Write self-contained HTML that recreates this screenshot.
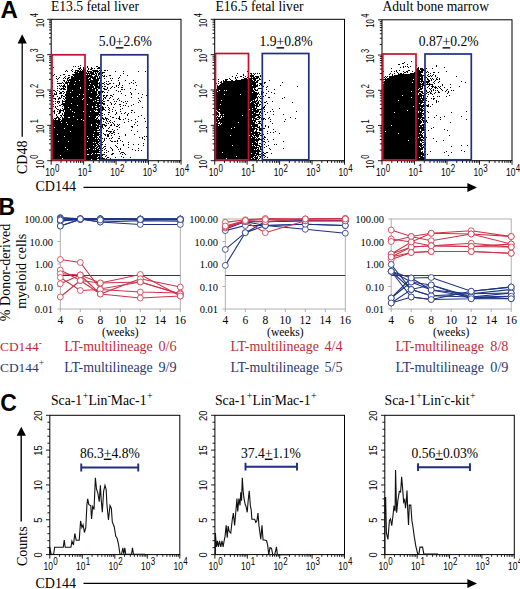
<!DOCTYPE html>
<html><head><meta charset="utf-8"><style>
html,body{margin:0;padding:0;background:#fff;}
svg{display:block;}
</style></head><body>
<svg width="520" height="589" viewBox="0 0 520 589">
<rect width="520" height="589" fill="#fff"/>
<path d="M80 65h1v1h-1zM73 66h1v1h-1zM75 66h1v1h-1zM78 66h1v1h-1zM87 66h1v1h-1zM96 66h2v1h-2zM53 67h1v1h-1zM80 67h1v1h-1zM83 67h1v1h-1zM87 67h1v1h-1zM91 67h1v1h-1zM98 67h2v1h-2zM78 68h3v1h-3zM83 68h1v1h-1zM85 68h1v1h-1zM88 68h1v1h-1zM91 68h2v1h-2zM94 68h1v1h-1zM97 68h3v1h-3zM72 69h1v1h-1zM79 69h1v1h-1zM81 69h1v1h-1zM83 69h3v1h-3zM88 69h1v1h-1zM90 69h2v1h-2zM66 70h1v1h-1zM71 70h1v1h-1zM75 70h4v1h-4zM80 70h1v1h-1zM82 70h4v1h-4zM87 70h1v1h-1zM92 70h6v1h-6zM99 70h1v1h-1zM101 70h1v1h-1zM104 70h2v1h-2zM107 70h1v1h-1zM65 71h1v1h-1zM67 71h1v1h-1zM72 71h1v1h-1zM75 71h1v1h-1zM77 71h9v1h-9zM87 71h5v1h-5zM93 71h6v1h-6zM100 71h1v1h-1zM115 71h1v1h-1zM123 71h1v1h-1zM138 71h1v1h-1zM145 71h1v1h-1zM74 72h4v1h-4zM79 72h8v1h-8zM88 72h1v1h-1zM90 72h4v1h-4zM95 72h1v1h-1zM97 72h1v1h-1zM99 72h2v1h-2zM102 72h3v1h-3zM75 73h19v1h-19zM95 73h2v1h-2zM98 73h3v1h-3zM102 73h1v1h-1zM123 73h1v1h-1zM54 74h1v1h-1zM63 74h2v1h-2zM72 74h14v1h-14zM87 74h1v1h-1zM89 74h1v1h-1zM91 74h4v1h-4zM96 74h1v1h-1zM98 74h2v1h-2zM101 74h1v1h-1zM52 75h2v1h-2zM60 75h1v1h-1zM68 75h2v1h-2zM73 75h19v1h-19zM95 75h2v1h-2zM98 75h1v1h-1zM102 75h1v1h-1zM104 75h1v1h-1zM109 75h2v1h-2zM120 75h1v1h-1zM127 75h1v1h-1zM56 76h1v1h-1zM65 76h1v1h-1zM71 76h2v1h-2zM74 76h19v1h-19zM94 76h4v1h-4zM99 76h1v1h-1zM103 76h2v1h-2zM106 76h1v1h-1zM59 77h1v1h-1zM64 77h1v1h-1zM68 77h2v1h-2zM71 77h18v1h-18zM90 77h6v1h-6zM97 77h1v1h-1zM99 77h1v1h-1zM101 77h1v1h-1zM119 77h1v1h-1zM56 78h1v1h-1zM58 78h1v1h-1zM63 78h1v1h-1zM65 78h1v1h-1zM67 78h2v1h-2zM71 78h17v1h-17zM89 78h2v1h-2zM92 78h4v1h-4zM97 78h4v1h-4zM104 78h1v1h-1zM110 78h1v1h-1zM112 78h1v1h-1zM118 78h1v1h-1zM57 79h1v1h-1zM67 79h1v1h-1zM69 79h22v1h-22zM93 79h6v1h-6zM52 80h1v1h-1zM63 80h2v1h-2zM67 80h12v1h-12zM80 80h9v1h-9zM90 80h9v1h-9zM100 80h1v1h-1zM111 80h1v1h-1zM118 80h1v1h-1zM125 80h1v1h-1zM133 80h1v1h-1zM57 81h1v1h-1zM64 81h1v1h-1zM66 81h1v1h-1zM68 81h1v1h-1zM70 81h5v1h-5zM76 81h22v1h-22zM100 81h1v1h-1zM106 81h1v1h-1zM108 81h1v1h-1zM52 82h1v1h-1zM62 82h1v1h-1zM65 82h33v1h-33zM99 82h1v1h-1zM104 82h1v1h-1zM119 82h1v1h-1zM131 82h1v1h-1zM135 82h1v1h-1zM52 83h1v1h-1zM57 83h5v1h-5zM63 83h1v1h-1zM65 83h3v1h-3zM69 83h21v1h-21zM91 83h9v1h-9zM102 83h2v1h-2zM106 83h1v1h-1zM109 83h2v1h-2zM113 83h1v1h-1zM119 83h1v1h-1zM129 83h1v1h-1zM133 83h1v1h-1zM64 84h1v1h-1zM67 84h1v1h-1zM69 84h5v1h-5zM75 84h23v1h-23zM99 84h2v1h-2zM104 84h1v1h-1zM107 84h2v1h-2zM119 84h1v1h-1zM59 85h1v1h-1zM61 85h1v1h-1zM63 85h2v1h-2zM67 85h22v1h-22zM90 85h3v1h-3zM94 85h4v1h-4zM99 85h2v1h-2zM116 85h1v1h-1zM118 85h1v1h-1zM122 85h1v1h-1zM136 85h1v1h-1zM52 86h1v1h-1zM57 86h1v1h-1zM60 86h1v1h-1zM62 86h4v1h-4zM67 86h27v1h-27zM95 86h5v1h-5zM102 86h1v1h-1zM104 86h2v1h-2zM112 86h1v1h-1zM116 86h1v1h-1zM63 87h1v1h-1zM65 87h1v1h-1zM67 87h13v1h-13zM81 87h13v1h-13zM95 87h5v1h-5zM101 87h1v1h-1zM107 87h1v1h-1zM111 87h1v1h-1zM114 87h1v1h-1zM118 87h1v1h-1zM121 87h2v1h-2zM57 88h1v1h-1zM59 88h1v1h-1zM61 88h4v1h-4zM67 88h13v1h-13zM81 88h11v1h-11zM93 88h4v1h-4zM98 88h2v1h-2zM103 88h2v1h-2zM107 88h1v1h-1zM110 88h1v1h-1zM130 88h1v1h-1zM60 89h2v1h-2zM63 89h3v1h-3zM67 89h21v1h-21zM89 89h6v1h-6zM96 89h2v1h-2zM104 89h3v1h-3zM121 89h2v1h-2zM124 89h1v1h-1zM135 89h1v1h-1zM53 90h2v1h-2zM57 90h1v1h-1zM67 90h5v1h-5zM73 90h22v1h-22zM96 90h2v1h-2zM101 90h1v1h-1zM108 90h1v1h-1zM116 90h1v1h-1zM55 91h1v1h-1zM59 91h1v1h-1zM62 91h2v1h-2zM66 91h31v1h-31zM98 91h6v1h-6zM118 91h1v1h-1zM120 91h1v1h-1zM56 92h1v1h-1zM60 92h2v1h-2zM64 92h1v1h-1zM66 92h4v1h-4zM71 92h20v1h-20zM92 92h5v1h-5zM98 92h3v1h-3zM102 92h1v1h-1zM104 92h1v1h-1zM107 92h1v1h-1zM130 92h1v1h-1zM52 93h1v1h-1zM54 93h1v1h-1zM56 93h1v1h-1zM59 93h3v1h-3zM63 93h1v1h-1zM66 93h31v1h-31zM98 93h3v1h-3zM121 93h1v1h-1zM131 93h1v1h-1zM138 93h1v1h-1zM54 94h3v1h-3zM65 94h14v1h-14zM80 94h3v1h-3zM84 94h14v1h-14zM99 94h2v1h-2zM113 94h1v1h-1zM131 94h1v1h-1zM142 94h1v1h-1zM52 95h2v1h-2zM61 95h2v1h-2zM65 95h32v1h-32zM98 95h2v1h-2zM103 95h2v1h-2zM106 95h2v1h-2zM110 95h2v1h-2zM125 95h1v1h-1zM146 95h1v1h-1zM52 96h2v1h-2zM57 96h1v1h-1zM61 96h1v1h-1zM63 96h2v1h-2zM66 96h11v1h-11zM78 96h18v1h-18zM97 96h2v1h-2zM103 96h1v1h-1zM106 96h1v1h-1zM112 96h1v1h-1zM52 97h1v1h-1zM59 97h1v1h-1zM61 97h1v1h-1zM65 97h7v1h-7zM73 97h16v1h-16zM90 97h11v1h-11zM104 97h2v1h-2zM110 97h1v1h-1zM131 97h1v1h-1zM141 97h1v1h-1zM53 98h3v1h-3zM58 98h3v1h-3zM63 98h1v1h-1zM65 98h18v1h-18zM84 98h6v1h-6zM92 98h8v1h-8zM103 98h1v1h-1zM105 98h1v1h-1zM109 98h1v1h-1zM118 98h1v1h-1zM138 98h1v1h-1zM55 99h1v1h-1zM58 99h1v1h-1zM64 99h1v1h-1zM66 99h16v1h-16zM83 99h14v1h-14zM99 99h1v1h-1zM103 99h1v1h-1zM113 99h1v1h-1zM117 99h1v1h-1zM62 100h1v1h-1zM65 100h30v1h-30zM96 100h5v1h-5zM102 100h1v1h-1zM107 100h2v1h-2zM119 100h1v1h-1zM139 100h1v1h-1zM53 101h1v1h-1zM55 101h1v1h-1zM57 101h3v1h-3zM62 101h31v1h-31zM94 101h3v1h-3zM99 101h1v1h-1zM101 101h1v1h-1zM103 101h2v1h-2zM114 101h1v1h-1zM116 101h1v1h-1zM121 101h1v1h-1zM125 101h1v1h-1zM127 101h1v1h-1zM140 101h1v1h-1zM57 102h1v1h-1zM59 102h1v1h-1zM62 102h1v1h-1zM65 102h38v1h-38zM110 102h1v1h-1zM123 102h1v1h-1zM138 102h1v1h-1zM55 103h1v1h-1zM58 103h1v1h-1zM62 103h9v1h-9zM72 103h33v1h-33zM111 103h1v1h-1zM115 103h1v1h-1zM126 103h1v1h-1zM53 104h1v1h-1zM61 104h26v1h-26zM88 104h8v1h-8zM97 104h2v1h-2zM103 104h2v1h-2zM111 104h1v1h-1zM114 104h1v1h-1zM119 104h2v1h-2zM133 104h1v1h-1zM59 105h2v1h-2zM63 105h14v1h-14zM78 105h23v1h-23zM107 105h1v1h-1zM123 105h1v1h-1zM125 105h1v1h-1zM131 105h1v1h-1zM53 106h1v1h-1zM55 106h1v1h-1zM57 106h1v1h-1zM62 106h1v1h-1zM64 106h28v1h-28zM93 106h2v1h-2zM97 106h3v1h-3zM102 106h1v1h-1zM120 106h1v1h-1zM128 106h1v1h-1zM55 107h1v1h-1zM64 107h4v1h-4zM69 107h23v1h-23zM93 107h6v1h-6zM100 107h4v1h-4zM105 107h1v1h-1zM108 107h1v1h-1zM113 107h1v1h-1zM142 107h1v1h-1zM52 108h1v1h-1zM56 108h1v1h-1zM62 108h1v1h-1zM64 108h32v1h-32zM98 108h3v1h-3zM102 108h2v1h-2zM109 108h1v1h-1zM122 108h1v1h-1zM57 109h2v1h-2zM60 109h1v1h-1zM63 109h7v1h-7zM71 109h30v1h-30zM102 109h3v1h-3zM108 109h1v1h-1zM112 109h1v1h-1zM120 109h1v1h-1zM54 110h1v1h-1zM59 110h5v1h-5zM65 110h29v1h-29zM95 110h1v1h-1zM97 110h3v1h-3zM101 110h2v1h-2zM105 110h1v1h-1zM109 110h1v1h-1zM115 110h1v1h-1zM131 110h2v1h-2zM53 111h2v1h-2zM57 111h1v1h-1zM59 111h2v1h-2zM63 111h1v1h-1zM65 111h7v1h-7zM73 111h10v1h-10zM84 111h6v1h-6zM91 111h4v1h-4zM98 111h2v1h-2zM112 111h1v1h-1zM120 111h1v1h-1zM54 112h1v1h-1zM59 112h2v1h-2zM64 112h10v1h-10zM75 112h26v1h-26zM108 112h2v1h-2zM116 112h1v1h-1zM125 112h1v1h-1zM131 112h1v1h-1zM134 112h1v1h-1zM54 113h1v1h-1zM58 113h2v1h-2zM62 113h1v1h-1zM64 113h35v1h-35zM100 113h3v1h-3zM116 113h1v1h-1zM121 113h1v1h-1zM124 113h1v1h-1zM128 113h1v1h-1zM56 114h1v1h-1zM62 114h1v1h-1zM64 114h36v1h-36zM104 114h1v1h-1zM108 114h1v1h-1zM115 114h1v1h-1zM127 114h1v1h-1zM56 115h1v1h-1zM60 115h2v1h-2zM63 115h35v1h-35zM99 115h2v1h-2zM102 115h1v1h-1zM127 115h1v1h-1zM141 115h1v1h-1zM52 116h1v1h-1zM57 116h1v1h-1zM61 116h1v1h-1zM64 116h9v1h-9zM74 116h15v1h-15zM90 116h6v1h-6zM98 116h1v1h-1zM110 116h1v1h-1zM119 116h1v1h-1zM138 116h1v1h-1zM56 117h3v1h-3zM60 117h1v1h-1zM62 117h1v1h-1zM64 117h4v1h-4zM70 117h26v1h-26zM97 117h1v1h-1zM102 117h1v1h-1zM105 117h1v1h-1zM112 117h2v1h-2zM119 117h1v1h-1zM52 118h1v1h-1zM54 118h3v1h-3zM58 118h2v1h-2zM62 118h33v1h-33zM96 118h2v1h-2zM102 118h2v1h-2zM105 118h3v1h-3zM116 118h1v1h-1zM118 118h2v1h-2zM125 118h1v1h-1zM144 118h1v1h-1zM53 119h1v1h-1zM55 119h1v1h-1zM58 119h3v1h-3zM62 119h15v1h-15zM78 119h3v1h-3zM82 119h15v1h-15zM98 119h1v1h-1zM100 119h2v1h-2zM103 119h2v1h-2zM106 119h1v1h-1zM108 119h1v1h-1zM119 119h2v1h-2zM123 119h1v1h-1zM128 119h1v1h-1zM135 119h1v1h-1zM52 120h8v1h-8zM61 120h22v1h-22zM84 120h18v1h-18zM106 120h1v1h-1zM110 120h1v1h-1zM131 120h1v1h-1zM52 121h48v1h-48zM103 121h1v1h-1zM107 121h1v1h-1zM109 121h1v1h-1zM114 121h1v1h-1zM128 121h1v1h-1zM137 121h1v1h-1zM145 121h1v1h-1zM52 122h9v1h-9zM62 122h4v1h-4zM67 122h35v1h-35zM105 122h1v1h-1zM110 122h1v1h-1zM112 122h1v1h-1zM124 122h1v1h-1zM135 122h1v1h-1zM52 123h44v1h-44zM97 123h3v1h-3zM106 123h1v1h-1zM108 123h1v1h-1zM113 123h1v1h-1zM52 124h15v1h-15zM68 124h23v1h-23zM92 124h5v1h-5zM98 124h3v1h-3zM102 124h3v1h-3zM111 124h1v1h-1zM114 124h1v1h-1zM117 124h1v1h-1zM119 124h1v1h-1zM134 124h1v1h-1zM52 125h20v1h-20zM73 125h18v1h-18zM92 125h7v1h-7zM101 125h2v1h-2zM104 125h3v1h-3zM110 125h2v1h-2zM114 125h1v1h-1zM118 125h1v1h-1zM137 125h1v1h-1zM52 126h44v1h-44zM97 126h6v1h-6zM105 126h1v1h-1zM116 126h2v1h-2zM131 126h2v1h-2zM52 127h2v1h-2zM55 127h44v1h-44zM100 127h3v1h-3zM109 127h1v1h-1zM119 127h1v1h-1zM132 127h1v1h-1zM146 127h1v1h-1zM52 128h12v1h-12zM65 128h34v1h-34zM100 128h1v1h-1zM103 128h1v1h-1zM108 128h1v1h-1zM52 129h45v1h-45zM99 129h1v1h-1zM101 129h1v1h-1zM112 129h1v1h-1zM117 129h1v1h-1zM52 130h48v1h-48zM101 130h1v1h-1zM106 130h2v1h-2zM114 130h1v1h-1zM131 130h1v1h-1zM52 131h18v1h-18zM71 131h23v1h-23zM95 131h2v1h-2zM100 131h1v1h-1zM106 131h1v1h-1zM108 131h4v1h-4zM113 131h1v1h-1zM137 131h1v1h-1zM52 132h48v1h-48zM101 132h1v1h-1zM110 132h1v1h-1zM113 132h2v1h-2zM52 133h47v1h-47zM101 133h1v1h-1zM103 133h1v1h-1zM109 133h1v1h-1zM111 133h2v1h-2zM118 133h1v1h-1zM52 134h5v1h-5zM58 134h35v1h-35zM94 134h6v1h-6zM104 134h2v1h-2zM107 134h2v1h-2zM114 134h1v1h-1zM125 134h1v1h-1zM134 134h1v1h-1zM52 135h47v1h-47zM100 135h2v1h-2zM105 135h1v1h-1zM107 135h2v1h-2zM111 135h1v1h-1zM125 135h1v1h-1zM52 136h12v1h-12zM65 136h22v1h-22zM88 136h5v1h-5zM94 136h3v1h-3zM99 136h2v1h-2zM107 136h2v1h-2zM119 136h1v1h-1zM144 136h1v1h-1zM146 136h1v1h-1zM52 137h46v1h-46zM99 137h2v1h-2zM112 137h1v1h-1zM139 137h1v1h-1zM142 137h1v1h-1zM52 138h36v1h-36zM89 138h6v1h-6zM96 138h1v1h-1zM98 138h1v1h-1zM102 138h1v1h-1zM104 138h1v1h-1zM106 138h1v1h-1zM109 138h1v1h-1zM111 138h1v1h-1zM118 138h2v1h-2zM142 138h1v1h-1zM52 139h48v1h-48zM104 139h1v1h-1zM144 139h1v1h-1zM52 140h46v1h-46zM99 140h2v1h-2zM104 140h1v1h-1zM110 140h1v1h-1zM117 140h1v1h-1zM120 140h1v1h-1zM52 141h6v1h-6zM59 141h9v1h-9zM69 141h18v1h-18zM88 141h12v1h-12zM101 141h1v1h-1zM103 141h1v1h-1zM111 141h2v1h-2zM114 141h2v1h-2zM117 141h1v1h-1zM122 141h1v1h-1zM52 142h41v1h-41zM94 142h1v1h-1zM96 142h3v1h-3zM101 142h2v1h-2zM128 142h1v1h-1zM52 143h46v1h-46zM99 143h1v1h-1zM117 143h1v1h-1zM143 143h1v1h-1zM52 144h44v1h-44zM97 144h2v1h-2zM100 144h3v1h-3zM105 144h1v1h-1zM123 144h1v1h-1zM128 144h1v1h-1zM133 144h1v1h-1zM138 144h1v1h-1zM52 145h41v1h-41zM94 145h3v1h-3zM98 145h2v1h-2zM101 145h1v1h-1zM115 145h1v1h-1zM123 145h1v1h-1zM143 145h1v1h-1zM52 146h44v1h-44zM97 146h3v1h-3zM104 146h2v1h-2zM116 146h1v1h-1zM52 147h13v1h-13zM66 147h29v1h-29zM96 147h2v1h-2zM99 147h2v1h-2zM103 147h1v1h-1zM110 147h1v1h-1zM117 147h1v1h-1zM128 147h1v1h-1zM52 148h37v1h-37zM90 148h7v1h-7zM98 148h3v1h-3zM102 148h1v1h-1zM105 148h1v1h-1zM111 148h1v1h-1zM120 148h1v1h-1zM138 148h1v1h-1zM52 149h15v1h-15zM68 149h19v1h-19zM88 149h5v1h-5zM94 149h1v1h-1zM96 149h3v1h-3zM100 149h1v1h-1zM104 149h1v1h-1zM112 149h1v1h-1zM118 149h1v1h-1zM120 149h1v1h-1zM132 149h1v1h-1zM52 150h48v1h-48zM102 150h1v1h-1zM106 150h1v1h-1zM112 150h1v1h-1zM135 150h1v1h-1zM138 150h1v1h-1zM141 150h1v1h-1zM52 151h47v1h-47zM108 151h1v1h-1zM119 151h1v1h-1zM52 152h49v1h-49zM104 152h1v1h-1zM106 152h1v1h-1zM121 152h3v1h-3zM52 153h40v1h-40zM93 153h2v1h-2zM96 153h1v1h-1zM112 153h2v1h-2zM120 153h1v1h-1zM124 153h1v1h-1zM52 154h35v1h-35zM89 154h2v1h-2zM92 154h8v1h-8zM102 154h3v1h-3zM111 154h2v1h-2zM122 154h1v1h-1zM125 154h1v1h-1zM52 155h8v1h-8zM61 155h39v1h-39zM101 155h2v1h-2zM106 155h1v1h-1zM52 156h46v1h-46zM99 156h1v1h-1zM101 156h1v1h-1zM105 156h1v1h-1zM121 156h1v1h-1zM52 157h45v1h-45zM98 157h3v1h-3zM102 157h1v1h-1zM107 157h2v1h-2zM115 157h1v1h-1zM123 157h1v1h-1zM130 157h1v1h-1zM52 158h10v1h-10zM63 158h42v1h-42zM106 158h1v1h-1zM110 158h1v1h-1zM52 159h39v1h-39zM92 159h5v1h-5zM99 159h1v1h-1zM103 159h1v1h-1zM119 159h1v1h-1zM145 159h1v1h-1z" fill="#000"/><rect x="51.2" y="19.3" width="129.80" height="141.40" fill="none" stroke="#000" stroke-width="1"/><path d="M47.20 160.70H51.20M49.00 150.06H51.20M49.00 143.83H51.20M49.00 139.42H51.20M49.00 135.99H51.20M49.00 133.19H51.20M49.00 130.83H51.20M49.00 128.78H51.20M49.00 126.97H51.20M47.20 125.35H51.20M49.00 114.71H51.20M49.00 108.48H51.20M49.00 104.07H51.20M49.00 100.64H51.20M49.00 97.84H51.20M49.00 95.48H51.20M49.00 93.43H51.20M49.00 91.62H51.20M47.20 90.00H51.20M49.00 79.36H51.20M49.00 73.13H51.20M49.00 68.72H51.20M49.00 65.29H51.20M49.00 62.49H51.20M49.00 60.13H51.20M49.00 58.08H51.20M49.00 56.27H51.20M47.20 54.65H51.20M49.00 44.01H51.20M49.00 37.78H51.20M49.00 33.37H51.20M49.00 29.94H51.20M49.00 27.14H51.20M49.00 24.78H51.20M49.00 22.73H51.20M49.00 20.92H51.20M47.20 19.30H51.20M51.20 160.70V164.70M60.97 160.70V162.90M66.68 160.70V162.90M70.74 160.70V162.90M73.88 160.70V162.90M76.45 160.70V162.90M78.62 160.70V162.90M80.51 160.70V162.90M82.17 160.70V162.90M83.65 160.70V164.70M93.42 160.70V162.90M99.13 160.70V162.90M103.19 160.70V162.90M106.33 160.70V162.90M108.90 160.70V162.90M111.07 160.70V162.90M112.96 160.70V162.90M114.62 160.70V162.90M116.10 160.70V164.70M125.87 160.70V162.90M131.58 160.70V162.90M135.64 160.70V162.90M138.78 160.70V162.90M141.35 160.70V162.90M143.52 160.70V162.90M145.41 160.70V162.90M147.07 160.70V162.90M148.55 160.70V164.70M158.32 160.70V162.90M164.03 160.70V162.90M168.09 160.70V162.90M171.23 160.70V162.90M173.80 160.70V162.90M175.97 160.70V162.90M177.86 160.70V162.90M179.52 160.70V162.90M181.00 160.70V164.70" stroke="#000" stroke-width="0.9" fill="none"/><rect x="52" y="54.8" width="33.00" height="105.00" fill="none" stroke="#c8102e" stroke-width="1.7"/><rect x="101" y="54.8" width="46.80" height="105.00" fill="none" stroke="#1f2f80" stroke-width="1.7"/><text x="51" y="10.7" font-family='"Liberation Serif", serif' font-size="13.6">E13.5 fetal liver</text><text x="98.75" y="46.2" font-family='"Liberation Serif", serif' font-size="13.6">5.0<tspan text-decoration="underline">+</tspan>2.6%</text><text transform="translate(52.40,176.3) scale(0.8,1)" font-family='"Liberation Sans", sans-serif' font-size="10.6" text-anchor="middle">10<tspan dx="0.4" dy="-4.8" font-size="10">0</tspan></text><text transform="translate(84.85,176.3) scale(0.8,1)" font-family='"Liberation Sans", sans-serif' font-size="10.6" text-anchor="middle">10<tspan dx="0.4" dy="-4.8" font-size="10">1</tspan></text><text transform="translate(117.30,176.3) scale(0.8,1)" font-family='"Liberation Sans", sans-serif' font-size="10.6" text-anchor="middle">10<tspan dx="0.4" dy="-4.8" font-size="10">2</tspan></text><text transform="translate(149.75,176.3) scale(0.8,1)" font-family='"Liberation Sans", sans-serif' font-size="10.6" text-anchor="middle">10<tspan dx="0.4" dy="-4.8" font-size="10">3</tspan></text><text transform="translate(182.20,176.3) scale(0.8,1)" font-family='"Liberation Sans", sans-serif' font-size="10.6" text-anchor="middle">10<tspan dx="0.4" dy="-4.8" font-size="10">4</tspan></text><text transform="translate(43.6,161.60) rotate(-90) scale(0.74,1)" font-family='"Liberation Sans", sans-serif' font-size="10.6" text-anchor="middle">10<tspan dx="1.8" dy="-5.6" font-size="10">0</tspan></text><text transform="translate(43.6,126.25) rotate(-90) scale(0.74,1)" font-family='"Liberation Sans", sans-serif' font-size="10.6" text-anchor="middle">10<tspan dx="1.8" dy="-5.6" font-size="10">1</tspan></text><text transform="translate(43.6,90.90) rotate(-90) scale(0.74,1)" font-family='"Liberation Sans", sans-serif' font-size="10.6" text-anchor="middle">10<tspan dx="1.8" dy="-5.6" font-size="10">2</tspan></text><text transform="translate(43.6,55.55) rotate(-90) scale(0.74,1)" font-family='"Liberation Sans", sans-serif' font-size="10.6" text-anchor="middle">10<tspan dx="1.8" dy="-5.6" font-size="10">3</tspan></text><text transform="translate(43.6,20.20) rotate(-90) scale(0.74,1)" font-family='"Liberation Sans", sans-serif' font-size="10.6" text-anchor="middle">10<tspan dx="1.8" dy="-5.6" font-size="10">4</tspan></text><path d="M247 71h1v1h-1zM237 73h1v1h-1zM248 73h1v1h-1zM250 73h2v1h-2zM253 73h1v1h-1zM255 73h1v1h-1zM257 73h1v1h-1zM259 73h1v1h-1zM243 74h1v1h-1zM251 74h1v1h-1zM254 74h1v1h-1zM236 75h1v1h-1zM243 75h1v1h-1zM250 75h4v1h-4zM260 75h1v1h-1zM232 76h1v1h-1zM240 76h2v1h-2zM245 76h1v1h-1zM250 76h4v1h-4zM255 76h4v1h-4zM260 76h1v1h-1zM235 77h1v1h-1zM237 77h1v1h-1zM243 77h1v1h-1zM247 77h1v1h-1zM251 77h1v1h-1zM253 77h2v1h-2zM256 77h3v1h-3zM229 78h1v1h-1zM235 78h1v1h-1zM244 78h3v1h-3zM249 78h9v1h-9zM259 78h1v1h-1zM262 78h1v1h-1zM218 79h1v1h-1zM225 79h3v1h-3zM230 79h1v1h-1zM236 79h1v1h-1zM241 79h11v1h-11zM253 79h3v1h-3zM259 79h2v1h-2zM262 79h1v1h-1zM223 80h1v1h-1zM225 80h2v1h-2zM231 80h2v1h-2zM235 80h18v1h-18zM254 80h2v1h-2zM257 80h2v1h-2zM269 80h1v1h-1zM218 81h1v1h-1zM221 81h1v1h-1zM223 81h32v1h-32zM256 81h2v1h-2zM262 81h1v1h-1zM220 82h2v1h-2zM223 82h35v1h-35zM264 82h2v1h-2zM282 82h1v1h-1zM216 83h1v1h-1zM218 83h1v1h-1zM221 83h27v1h-27zM249 83h7v1h-7zM259 83h3v1h-3zM264 83h1v1h-1zM220 84h36v1h-36zM257 84h1v1h-1zM260 84h2v1h-2zM217 85h1v1h-1zM219 85h33v1h-33zM253 85h5v1h-5zM259 85h1v1h-1zM261 85h1v1h-1zM280 85h1v1h-1zM217 86h41v1h-41zM262 86h2v1h-2zM267 86h1v1h-1zM297 86h1v1h-1zM217 87h39v1h-39zM262 87h1v1h-1zM266 87h1v1h-1zM217 88h36v1h-36zM254 88h1v1h-1zM258 88h4v1h-4zM216 89h37v1h-37zM254 89h2v1h-2zM257 89h1v1h-1zM262 89h1v1h-1zM266 89h1v1h-1zM274 89h1v1h-1zM216 90h3v1h-3zM220 90h4v1h-4zM225 90h1v1h-1zM227 90h27v1h-27zM255 90h3v1h-3zM262 90h1v1h-1zM216 91h1v1h-1zM218 91h37v1h-37zM261 91h2v1h-2zM268 91h1v1h-1zM215 92h37v1h-37zM253 92h4v1h-4zM258 92h1v1h-1zM261 92h3v1h-3zM271 92h1v1h-1zM215 93h44v1h-44zM261 93h2v1h-2zM266 93h1v1h-1zM274 93h1v1h-1zM215 94h9v1h-9zM225 94h15v1h-15zM241 94h17v1h-17zM259 94h1v1h-1zM261 94h2v1h-2zM215 95h42v1h-42zM265 95h1v1h-1zM215 96h42v1h-42zM258 96h1v1h-1zM260 96h1v1h-1zM263 96h1v1h-1zM215 97h43v1h-43zM259 97h1v1h-1zM268 97h2v1h-2zM284 97h1v1h-1zM215 98h41v1h-41zM257 98h1v1h-1zM260 98h2v1h-2zM282 98h1v1h-1zM215 99h40v1h-40zM257 99h1v1h-1zM215 100h6v1h-6zM222 100h31v1h-31zM254 100h1v1h-1zM256 100h2v1h-2zM259 100h1v1h-1zM215 101h36v1h-36zM252 101h5v1h-5zM258 101h1v1h-1zM260 101h1v1h-1zM266 101h1v1h-1zM272 101h1v1h-1zM215 102h35v1h-35zM251 102h5v1h-5zM257 102h2v1h-2zM261 102h1v1h-1zM264 102h2v1h-2zM292 102h1v1h-1zM215 103h39v1h-39zM255 103h4v1h-4zM267 103h1v1h-1zM215 104h5v1h-5zM221 104h34v1h-34zM256 104h2v1h-2zM259 104h2v1h-2zM262 104h1v1h-1zM216 105h42v1h-42zM259 105h1v1h-1zM265 105h1v1h-1zM215 106h40v1h-40zM256 106h3v1h-3zM264 106h1v1h-1zM215 107h40v1h-40zM256 107h1v1h-1zM262 107h3v1h-3zM215 108h37v1h-37zM253 108h4v1h-4zM261 108h1v1h-1zM263 108h1v1h-1zM279 108h1v1h-1zM215 109h4v1h-4zM220 109h29v1h-29zM250 109h6v1h-6zM257 109h6v1h-6zM264 109h1v1h-1zM272 109h1v1h-1zM215 110h1v1h-1zM217 110h35v1h-35zM253 110h6v1h-6zM215 111h2v1h-2zM218 111h41v1h-41zM260 111h1v1h-1zM264 111h1v1h-1zM270 111h1v1h-1zM273 111h1v1h-1zM296 111h1v1h-1zM215 112h3v1h-3zM220 112h34v1h-34zM255 112h3v1h-3zM259 112h2v1h-2zM267 112h1v1h-1zM215 113h4v1h-4zM220 113h36v1h-36zM259 113h1v1h-1zM261 113h1v1h-1zM215 114h4v1h-4zM221 114h2v1h-2zM224 114h28v1h-28zM253 114h7v1h-7zM265 114h1v1h-1zM273 114h1v1h-1zM283 114h1v1h-1zM215 115h2v1h-2zM218 115h1v1h-1zM220 115h22v1h-22zM243 115h16v1h-16zM260 115h1v1h-1zM262 115h1v1h-1zM215 116h1v1h-1zM217 116h1v1h-1zM220 116h1v1h-1zM222 116h1v1h-1zM224 116h32v1h-32zM258 116h2v1h-2zM215 117h6v1h-6zM222 117h33v1h-33zM257 117h4v1h-4zM269 117h1v1h-1zM290 117h1v1h-1zM215 118h2v1h-2zM218 118h2v1h-2zM221 118h31v1h-31zM253 118h4v1h-4zM259 118h1v1h-1zM261 118h4v1h-4zM268 118h1v1h-1zM295 118h1v1h-1zM216 119h36v1h-36zM253 119h1v1h-1zM255 119h4v1h-4zM261 119h1v1h-1zM263 119h1v1h-1zM265 119h1v1h-1zM270 119h1v1h-1zM285 119h1v1h-1zM215 120h3v1h-3zM219 120h37v1h-37zM262 120h1v1h-1zM215 121h38v1h-38zM254 121h2v1h-2zM258 121h3v1h-3zM270 121h1v1h-1zM284 121h1v1h-1zM215 122h1v1h-1zM217 122h2v1h-2zM220 122h18v1h-18zM239 122h16v1h-16zM256 122h1v1h-1zM259 122h1v1h-1zM215 123h3v1h-3zM220 123h1v1h-1zM222 123h33v1h-33zM258 123h3v1h-3zM262 123h1v1h-1zM272 123h1v1h-1zM215 124h5v1h-5zM221 124h37v1h-37zM261 124h1v1h-1zM215 125h3v1h-3zM219 125h32v1h-32zM252 125h6v1h-6zM261 125h1v1h-1zM265 125h1v1h-1zM215 126h43v1h-43zM259 126h1v1h-1zM265 126h1v1h-1zM268 126h1v1h-1zM215 127h19v1h-19zM235 127h17v1h-17zM253 127h2v1h-2zM257 127h3v1h-3zM268 127h1v1h-1zM215 128h16v1h-16zM232 128h25v1h-25zM259 128h3v1h-3zM263 128h2v1h-2zM215 129h40v1h-40zM256 129h2v1h-2zM259 129h3v1h-3zM273 129h1v1h-1zM215 130h39v1h-39zM256 130h1v1h-1zM259 130h3v1h-3zM215 131h39v1h-39zM255 131h2v1h-2zM267 131h1v1h-1zM275 131h1v1h-1zM215 132h36v1h-36zM252 132h8v1h-8zM270 132h1v1h-1zM273 132h1v1h-1zM215 133h43v1h-43zM259 133h2v1h-2zM267 133h1v1h-1zM279 133h1v1h-1zM215 134h39v1h-39zM255 134h5v1h-5zM262 134h2v1h-2zM215 135h15v1h-15zM231 135h18v1h-18zM250 135h2v1h-2zM253 135h6v1h-6zM260 135h3v1h-3zM215 136h38v1h-38zM254 136h1v1h-1zM256 136h3v1h-3zM262 136h1v1h-1zM264 136h1v1h-1zM215 137h36v1h-36zM252 137h4v1h-4zM257 137h1v1h-1zM264 137h2v1h-2zM215 138h40v1h-40zM256 138h1v1h-1zM258 138h2v1h-2zM262 138h2v1h-2zM215 139h47v1h-47zM264 139h1v1h-1zM267 139h1v1h-1zM273 139h1v1h-1zM215 140h44v1h-44zM261 140h1v1h-1zM215 141h40v1h-40zM256 141h2v1h-2zM263 141h2v1h-2zM268 141h1v1h-1zM283 141h1v1h-1zM215 142h41v1h-41zM257 142h1v1h-1zM265 142h1v1h-1zM215 143h37v1h-37zM253 143h5v1h-5zM259 143h2v1h-2zM215 144h43v1h-43zM261 144h2v1h-2zM264 144h1v1h-1zM274 144h1v1h-1zM276 144h1v1h-1zM215 145h17v1h-17zM233 145h19v1h-19zM253 145h1v1h-1zM255 145h5v1h-5zM268 145h1v1h-1zM215 146h40v1h-40zM256 146h1v1h-1zM259 146h3v1h-3zM266 146h1v1h-1zM215 147h44v1h-44zM260 147h1v1h-1zM262 147h1v1h-1zM264 147h1v1h-1zM215 148h42v1h-42zM258 148h1v1h-1zM260 148h1v1h-1zM262 148h1v1h-1zM269 148h1v1h-1zM283 148h1v1h-1zM215 149h39v1h-39zM255 149h1v1h-1zM257 149h2v1h-2zM260 149h3v1h-3zM270 149h1v1h-1zM215 150h45v1h-45zM262 150h1v1h-1zM215 151h46v1h-46zM215 152h7v1h-7zM223 152h33v1h-33zM257 152h2v1h-2zM263 152h1v1h-1zM266 152h2v1h-2zM215 153h36v1h-36zM252 153h7v1h-7zM261 153h1v1h-1zM264 153h2v1h-2zM271 153h1v1h-1zM215 154h40v1h-40zM256 154h5v1h-5zM263 154h1v1h-1zM215 155h42v1h-42zM258 155h1v1h-1zM261 155h1v1h-1zM263 155h2v1h-2zM215 156h21v1h-21zM237 156h17v1h-17zM255 156h1v1h-1zM257 156h1v1h-1zM259 156h2v1h-2zM265 156h1v1h-1zM215 157h38v1h-38zM254 157h4v1h-4zM260 157h1v1h-1zM262 157h1v1h-1zM264 157h1v1h-1zM267 157h1v1h-1zM215 158h11v1h-11zM227 158h24v1h-24zM252 158h2v1h-2zM255 158h3v1h-3zM259 158h1v1h-1zM215 159h42v1h-42zM258 159h1v1h-1zM262 159h1v1h-1z" fill="#000"/><rect x="214.7" y="19.3" width="129.80" height="141.40" fill="none" stroke="#000" stroke-width="1"/><path d="M210.70 160.70H214.70M212.50 150.06H214.70M212.50 143.83H214.70M212.50 139.42H214.70M212.50 135.99H214.70M212.50 133.19H214.70M212.50 130.83H214.70M212.50 128.78H214.70M212.50 126.97H214.70M210.70 125.35H214.70M212.50 114.71H214.70M212.50 108.48H214.70M212.50 104.07H214.70M212.50 100.64H214.70M212.50 97.84H214.70M212.50 95.48H214.70M212.50 93.43H214.70M212.50 91.62H214.70M210.70 90.00H214.70M212.50 79.36H214.70M212.50 73.13H214.70M212.50 68.72H214.70M212.50 65.29H214.70M212.50 62.49H214.70M212.50 60.13H214.70M212.50 58.08H214.70M212.50 56.27H214.70M210.70 54.65H214.70M212.50 44.01H214.70M212.50 37.78H214.70M212.50 33.37H214.70M212.50 29.94H214.70M212.50 27.14H214.70M212.50 24.78H214.70M212.50 22.73H214.70M212.50 20.92H214.70M210.70 19.30H214.70M214.70 160.70V164.70M224.47 160.70V162.90M230.18 160.70V162.90M234.24 160.70V162.90M237.38 160.70V162.90M239.95 160.70V162.90M242.12 160.70V162.90M244.01 160.70V162.90M245.67 160.70V162.90M247.15 160.70V164.70M256.92 160.70V162.90M262.63 160.70V162.90M266.69 160.70V162.90M269.83 160.70V162.90M272.40 160.70V162.90M274.57 160.70V162.90M276.46 160.70V162.90M278.12 160.70V162.90M279.60 160.70V164.70M289.37 160.70V162.90M295.08 160.70V162.90M299.14 160.70V162.90M302.28 160.70V162.90M304.85 160.70V162.90M307.02 160.70V162.90M308.91 160.70V162.90M310.57 160.70V162.90M312.05 160.70V164.70M321.82 160.70V162.90M327.53 160.70V162.90M331.59 160.70V162.90M334.73 160.70V162.90M337.30 160.70V162.90M339.47 160.70V162.90M341.36 160.70V162.90M343.02 160.70V162.90M344.50 160.70V164.70" stroke="#000" stroke-width="0.9" fill="none"/><rect x="215.5" y="53.5" width="33.00" height="106.30" fill="none" stroke="#c8102e" stroke-width="1.7"/><rect x="262.3" y="53.5" width="46.50" height="106.30" fill="none" stroke="#1f2f80" stroke-width="1.7"/><text x="215.5" y="10.7" font-family='"Liberation Serif", serif' font-size="13.6">E16.5 fetal liver</text><text x="259.5" y="46.2" font-family='"Liberation Serif", serif' font-size="13.6">1.9<tspan text-decoration="underline">+</tspan>0.8%</text><text transform="translate(215.90,176.3) scale(0.8,1)" font-family='"Liberation Sans", sans-serif' font-size="10.6" text-anchor="middle">10<tspan dx="0.4" dy="-4.8" font-size="10">0</tspan></text><text transform="translate(248.35,176.3) scale(0.8,1)" font-family='"Liberation Sans", sans-serif' font-size="10.6" text-anchor="middle">10<tspan dx="0.4" dy="-4.8" font-size="10">1</tspan></text><text transform="translate(280.80,176.3) scale(0.8,1)" font-family='"Liberation Sans", sans-serif' font-size="10.6" text-anchor="middle">10<tspan dx="0.4" dy="-4.8" font-size="10">2</tspan></text><text transform="translate(313.25,176.3) scale(0.8,1)" font-family='"Liberation Sans", sans-serif' font-size="10.6" text-anchor="middle">10<tspan dx="0.4" dy="-4.8" font-size="10">3</tspan></text><text transform="translate(345.70,176.3) scale(0.8,1)" font-family='"Liberation Sans", sans-serif' font-size="10.6" text-anchor="middle">10<tspan dx="0.4" dy="-4.8" font-size="10">4</tspan></text><text transform="translate(207.1,161.60) rotate(-90) scale(0.74,1)" font-family='"Liberation Sans", sans-serif' font-size="10.6" text-anchor="middle">10<tspan dx="1.8" dy="-5.6" font-size="10">0</tspan></text><text transform="translate(207.1,126.25) rotate(-90) scale(0.74,1)" font-family='"Liberation Sans", sans-serif' font-size="10.6" text-anchor="middle">10<tspan dx="1.8" dy="-5.6" font-size="10">1</tspan></text><text transform="translate(207.1,90.90) rotate(-90) scale(0.74,1)" font-family='"Liberation Sans", sans-serif' font-size="10.6" text-anchor="middle">10<tspan dx="1.8" dy="-5.6" font-size="10">2</tspan></text><text transform="translate(207.1,55.55) rotate(-90) scale(0.74,1)" font-family='"Liberation Sans", sans-serif' font-size="10.6" text-anchor="middle">10<tspan dx="1.8" dy="-5.6" font-size="10">3</tspan></text><text transform="translate(207.1,20.20) rotate(-90) scale(0.74,1)" font-family='"Liberation Sans", sans-serif' font-size="10.6" text-anchor="middle">10<tspan dx="1.8" dy="-5.6" font-size="10">4</tspan></text><path d="M411 61h1v1h-1zM404 62h1v1h-1zM402 63h2v1h-2zM398 64h2v1h-2zM407 64h1v1h-1zM416 65h1v1h-1zM436 65h1v1h-1zM403 66h1v1h-1zM405 66h1v1h-1zM407 66h1v1h-1zM410 66h1v1h-1zM436 66h1v1h-1zM400 67h1v1h-1zM403 67h1v1h-1zM408 67h1v1h-1zM418 67h1v1h-1zM444 67h1v1h-1zM391 68h1v1h-1zM417 68h2v1h-2zM420 68h3v1h-3zM426 68h1v1h-1zM432 68h1v1h-1zM416 69h3v1h-3zM420 69h4v1h-4zM396 70h1v1h-1zM399 70h1v1h-1zM408 70h2v1h-2zM416 70h4v1h-4zM421 70h5v1h-5zM383 71h1v1h-1zM391 71h1v1h-1zM394 71h1v1h-1zM396 71h1v1h-1zM403 71h1v1h-1zM406 71h2v1h-2zM412 71h1v1h-1zM416 71h7v1h-7zM425 71h1v1h-1zM427 71h1v1h-1zM446 71h1v1h-1zM397 72h1v1h-1zM404 72h2v1h-2zM407 72h1v1h-1zM414 72h9v1h-9zM426 72h1v1h-1zM428 72h1v1h-1zM433 72h2v1h-2zM438 72h1v1h-1zM390 73h1v1h-1zM394 73h1v1h-1zM398 73h1v1h-1zM400 73h2v1h-2zM403 73h1v1h-1zM410 73h11v1h-11zM424 73h1v1h-1zM430 73h1v1h-1zM389 74h1v1h-1zM392 74h1v1h-1zM398 74h24v1h-24zM428 74h1v1h-1zM433 74h1v1h-1zM392 75h1v1h-1zM394 75h31v1h-31zM427 75h1v1h-1zM430 75h1v1h-1zM432 75h1v1h-1zM435 75h1v1h-1zM385 76h1v1h-1zM387 76h1v1h-1zM389 76h34v1h-34zM425 76h1v1h-1zM428 76h2v1h-2zM431 76h1v1h-1zM435 76h1v1h-1zM456 76h1v1h-1zM384 77h1v1h-1zM386 77h1v1h-1zM389 77h31v1h-31zM421 77h2v1h-2zM424 77h3v1h-3zM437 77h1v1h-1zM385 78h1v1h-1zM387 78h36v1h-36zM427 78h1v1h-1zM430 78h1v1h-1zM432 78h1v1h-1zM436 78h1v1h-1zM439 78h1v1h-1zM383 79h30v1h-30zM414 79h9v1h-9zM424 79h1v1h-1zM427 79h2v1h-2zM431 79h1v1h-1zM433 79h1v1h-1zM436 79h2v1h-2zM439 79h1v1h-1zM385 80h35v1h-35zM421 80h2v1h-2zM425 80h1v1h-1zM428 80h2v1h-2zM431 80h1v1h-1zM435 80h1v1h-1zM382 81h1v1h-1zM384 81h40v1h-40zM426 81h4v1h-4zM434 81h1v1h-1zM439 81h1v1h-1zM461 81h1v1h-1zM383 82h29v1h-29zM413 82h7v1h-7zM421 82h1v1h-1zM423 82h2v1h-2zM426 82h3v1h-3zM433 82h1v1h-1zM438 82h1v1h-1zM465 82h1v1h-1zM384 83h37v1h-37zM422 83h2v1h-2zM427 83h1v1h-1zM429 83h1v1h-1zM434 83h1v1h-1zM383 84h41v1h-41zM426 84h7v1h-7zM442 84h1v1h-1zM450 84h1v1h-1zM383 85h38v1h-38zM422 85h4v1h-4zM429 85h1v1h-1zM432 85h1v1h-1zM442 85h1v1h-1zM382 86h41v1h-41zM424 86h1v1h-1zM428 86h1v1h-1zM431 86h3v1h-3zM435 86h1v1h-1zM438 86h1v1h-1zM440 86h1v1h-1zM459 86h1v1h-1zM382 87h39v1h-39zM422 87h1v1h-1zM427 87h1v1h-1zM432 87h1v1h-1zM434 87h3v1h-3zM439 87h1v1h-1zM444 87h1v1h-1zM450 87h1v1h-1zM383 88h36v1h-36zM420 88h3v1h-3zM424 88h2v1h-2zM429 88h1v1h-1zM431 88h1v1h-1zM435 88h1v1h-1zM437 88h1v1h-1zM440 88h1v1h-1zM382 89h36v1h-36zM419 89h3v1h-3zM425 89h1v1h-1zM430 89h1v1h-1zM433 89h1v1h-1zM441 89h1v1h-1zM447 89h1v1h-1zM383 90h37v1h-37zM424 90h1v1h-1zM426 90h1v1h-1zM431 90h1v1h-1zM433 90h1v1h-1zM435 90h1v1h-1zM437 90h1v1h-1zM442 90h1v1h-1zM446 90h1v1h-1zM451 90h1v1h-1zM453 90h1v1h-1zM383 91h28v1h-28zM412 91h11v1h-11zM426 91h1v1h-1zM429 91h1v1h-1zM431 91h1v1h-1zM438 91h1v1h-1zM445 91h1v1h-1zM448 91h1v1h-1zM383 92h36v1h-36zM421 92h2v1h-2zM424 92h1v1h-1zM427 92h2v1h-2zM430 92h1v1h-1zM435 92h1v1h-1zM438 92h2v1h-2zM448 92h1v1h-1zM383 93h35v1h-35zM419 93h2v1h-2zM422 93h2v1h-2zM426 93h1v1h-1zM430 93h2v1h-2zM434 93h1v1h-1zM447 93h1v1h-1zM383 94h35v1h-35zM419 94h3v1h-3zM424 94h2v1h-2zM428 94h1v1h-1zM432 94h1v1h-1zM382 95h20v1h-20zM403 95h22v1h-22zM449 95h1v1h-1zM383 96h39v1h-39zM423 96h1v1h-1zM427 96h1v1h-1zM433 96h1v1h-1zM437 96h1v1h-1zM439 96h1v1h-1zM446 96h1v1h-1zM382 97h29v1h-29zM412 97h8v1h-8zM421 97h1v1h-1zM423 97h1v1h-1zM383 98h44v1h-44zM431 98h1v1h-1zM433 98h2v1h-2zM383 99h38v1h-38zM422 99h2v1h-2zM425 99h1v1h-1zM433 99h1v1h-1zM383 100h15v1h-15zM399 100h25v1h-25zM425 100h2v1h-2zM436 100h1v1h-1zM383 101h40v1h-40zM424 101h1v1h-1zM428 101h1v1h-1zM436 101h1v1h-1zM438 101h1v1h-1zM382 102h44v1h-44zM436 102h1v1h-1zM383 103h36v1h-36zM420 103h2v1h-2zM424 103h1v1h-1zM383 104h38v1h-38zM423 104h1v1h-1zM425 104h1v1h-1zM428 104h1v1h-1zM432 104h1v1h-1zM382 105h43v1h-43zM426 105h3v1h-3zM383 106h30v1h-30zM414 106h11v1h-11zM427 106h2v1h-2zM430 106h1v1h-1zM382 107h38v1h-38zM421 107h2v1h-2zM383 108h39v1h-39zM423 108h1v1h-1zM383 109h40v1h-40zM424 109h1v1h-1zM383 110h24v1h-24zM408 110h18v1h-18zM383 111h35v1h-35zM419 111h1v1h-1zM421 111h2v1h-2zM424 111h1v1h-1zM427 111h1v1h-1zM466 111h1v1h-1zM383 112h11v1h-11zM395 112h23v1h-23zM419 112h3v1h-3zM424 112h2v1h-2zM428 112h1v1h-1zM451 112h1v1h-1zM383 113h42v1h-42zM383 114h39v1h-39zM423 114h1v1h-1zM383 115h40v1h-40zM424 115h2v1h-2zM436 115h1v1h-1zM383 116h39v1h-39zM425 116h1v1h-1zM444 116h1v1h-1zM461 116h1v1h-1zM383 117h42v1h-42zM428 117h1v1h-1zM434 117h1v1h-1zM440 117h1v1h-1zM383 118h35v1h-35zM419 118h2v1h-2zM422 118h3v1h-3zM383 119h37v1h-37zM421 119h2v1h-2zM440 119h1v1h-1zM466 119h1v1h-1zM383 120h38v1h-38zM422 120h3v1h-3zM426 120h1v1h-1zM383 121h39v1h-39zM423 121h4v1h-4zM383 122h39v1h-39zM423 122h1v1h-1zM425 122h1v1h-1zM427 122h1v1h-1zM450 122h1v1h-1zM383 123h38v1h-38zM424 123h1v1h-1zM382 124h38v1h-38zM422 124h3v1h-3zM382 125h9v1h-9zM392 125h32v1h-32zM425 125h1v1h-1zM382 126h37v1h-37zM420 126h2v1h-2zM423 126h1v1h-1zM383 127h43v1h-43zM433 127h1v1h-1zM383 128h41v1h-41zM431 128h1v1h-1zM383 129h37v1h-37zM421 129h5v1h-5zM444 129h1v1h-1zM383 130h37v1h-37zM421 130h4v1h-4zM428 130h1v1h-1zM447 130h1v1h-1zM382 131h3v1h-3zM386 131h36v1h-36zM382 132h40v1h-40zM423 132h2v1h-2zM383 133h15v1h-15zM399 133h20v1h-20zM420 133h1v1h-1zM422 133h1v1h-1zM425 133h1v1h-1zM383 134h39v1h-39zM425 134h1v1h-1zM383 135h40v1h-40zM424 135h2v1h-2zM449 135h1v1h-1zM383 136h37v1h-37zM421 136h2v1h-2zM424 136h2v1h-2zM382 137h36v1h-36zM419 137h6v1h-6zM426 137h1v1h-1zM383 138h38v1h-38zM423 138h1v1h-1zM433 138h1v1h-1zM382 139h41v1h-41zM425 139h1v1h-1zM383 140h25v1h-25zM409 140h15v1h-15zM425 140h1v1h-1zM443 140h1v1h-1zM383 141h37v1h-37zM421 141h1v1h-1zM436 141h1v1h-1zM383 142h37v1h-37zM422 142h2v1h-2zM425 142h1v1h-1zM383 143h39v1h-39zM425 143h1v1h-1zM383 144h39v1h-39zM423 144h3v1h-3zM383 145h40v1h-40zM424 145h2v1h-2zM461 145h1v1h-1zM467 145h1v1h-1zM383 146h36v1h-36zM420 146h2v1h-2zM423 146h1v1h-1zM451 146h1v1h-1zM383 147h37v1h-37zM421 147h3v1h-3zM383 148h40v1h-40zM424 148h2v1h-2zM382 149h41v1h-41zM425 149h1v1h-1zM383 150h38v1h-38zM461 150h1v1h-1zM383 151h38v1h-38zM422 151h1v1h-1zM424 151h2v1h-2zM430 151h1v1h-1zM446 151h1v1h-1zM464 151h1v1h-1zM383 152h40v1h-40zM424 152h1v1h-1zM444 152h1v1h-1zM451 152h1v1h-1zM382 153h42v1h-42zM383 154h41v1h-41zM425 154h1v1h-1zM427 154h1v1h-1zM383 155h38v1h-38zM422 155h3v1h-3zM448 155h1v1h-1zM383 156h40v1h-40zM383 157h36v1h-36zM420 157h5v1h-5zM383 158h42v1h-42zM383 159h42v1h-42z" fill="#000"/><rect x="382.0" y="19.8" width="130.00" height="140.90" fill="none" stroke="#000" stroke-width="1"/><path d="M378.00 160.70H382.00M379.80 150.10H382.00M379.80 143.89H382.00M379.80 139.49H382.00M379.80 136.08H382.00M379.80 133.29H382.00M379.80 130.93H382.00M379.80 128.89H382.00M379.80 127.09H382.00M378.00 125.47H382.00M379.80 114.87H382.00M379.80 108.67H382.00M379.80 104.27H382.00M379.80 100.85H382.00M379.80 98.06H382.00M379.80 95.71H382.00M379.80 93.66H382.00M379.80 91.86H382.00M378.00 90.25H382.00M379.80 79.65H382.00M379.80 73.44H382.00M379.80 69.04H382.00M379.80 65.63H382.00M379.80 62.84H382.00M379.80 60.48H382.00M379.80 58.44H382.00M379.80 56.64H382.00M378.00 55.03H382.00M379.80 44.42H382.00M379.80 38.22H382.00M379.80 33.82H382.00M379.80 30.40H382.00M379.80 27.61H382.00M379.80 25.26H382.00M379.80 23.21H382.00M379.80 21.41H382.00M378.00 19.80H382.00M382.00 160.70V164.70M391.78 160.70V162.90M397.51 160.70V162.90M401.57 160.70V162.90M404.72 160.70V162.90M407.29 160.70V162.90M409.47 160.70V162.90M411.35 160.70V162.90M413.01 160.70V162.90M414.50 160.70V164.70M424.28 160.70V162.90M430.01 160.70V162.90M434.07 160.70V162.90M437.22 160.70V162.90M439.79 160.70V162.90M441.97 160.70V162.90M443.85 160.70V162.90M445.51 160.70V162.90M447.00 160.70V164.70M456.78 160.70V162.90M462.51 160.70V162.90M466.57 160.70V162.90M469.72 160.70V162.90M472.29 160.70V162.90M474.47 160.70V162.90M476.35 160.70V162.90M478.01 160.70V162.90M479.50 160.70V164.70M489.28 160.70V162.90M495.01 160.70V162.90M499.07 160.70V162.90M502.22 160.70V162.90M504.79 160.70V162.90M506.97 160.70V162.90M508.85 160.70V162.90M510.51 160.70V162.90M512.00 160.70V164.70" stroke="#000" stroke-width="0.9" fill="none"/><rect x="382.8" y="54.0" width="33.20" height="105.80" fill="none" stroke="#c8102e" stroke-width="1.7"/><rect x="425" y="54.0" width="46.30" height="105.80" fill="none" stroke="#1f2f80" stroke-width="1.7"/><text x="382.5" y="10.7" font-family='"Liberation Serif", serif' font-size="13.6">Adult bone marrow</text><text x="418.75" y="46.2" font-family='"Liberation Serif", serif' font-size="13.6">0.87<tspan text-decoration="underline">+</tspan>0.2%</text><text transform="translate(383.20,176.3) scale(0.8,1)" font-family='"Liberation Sans", sans-serif' font-size="10.6" text-anchor="middle">10<tspan dx="0.4" dy="-4.8" font-size="10">0</tspan></text><text transform="translate(415.70,176.3) scale(0.8,1)" font-family='"Liberation Sans", sans-serif' font-size="10.6" text-anchor="middle">10<tspan dx="0.4" dy="-4.8" font-size="10">1</tspan></text><text transform="translate(448.20,176.3) scale(0.8,1)" font-family='"Liberation Sans", sans-serif' font-size="10.6" text-anchor="middle">10<tspan dx="0.4" dy="-4.8" font-size="10">2</tspan></text><text transform="translate(480.70,176.3) scale(0.8,1)" font-family='"Liberation Sans", sans-serif' font-size="10.6" text-anchor="middle">10<tspan dx="0.4" dy="-4.8" font-size="10">3</tspan></text><text transform="translate(513.20,176.3) scale(0.8,1)" font-family='"Liberation Sans", sans-serif' font-size="10.6" text-anchor="middle">10<tspan dx="0.4" dy="-4.8" font-size="10">4</tspan></text><text transform="translate(374.4,161.60) rotate(-90) scale(0.74,1)" font-family='"Liberation Sans", sans-serif' font-size="10.6" text-anchor="middle">10<tspan dx="1.8" dy="-5.6" font-size="10">0</tspan></text><text transform="translate(374.4,126.38) rotate(-90) scale(0.74,1)" font-family='"Liberation Sans", sans-serif' font-size="10.6" text-anchor="middle">10<tspan dx="1.8" dy="-5.6" font-size="10">1</tspan></text><text transform="translate(374.4,91.15) rotate(-90) scale(0.74,1)" font-family='"Liberation Sans", sans-serif' font-size="10.6" text-anchor="middle">10<tspan dx="1.8" dy="-5.6" font-size="10">2</tspan></text><text transform="translate(374.4,55.93) rotate(-90) scale(0.74,1)" font-family='"Liberation Sans", sans-serif' font-size="10.6" text-anchor="middle">10<tspan dx="1.8" dy="-5.6" font-size="10">3</tspan></text><text transform="translate(374.4,20.70) rotate(-90) scale(0.74,1)" font-family='"Liberation Sans", sans-serif' font-size="10.6" text-anchor="middle">10<tspan dx="1.8" dy="-5.6" font-size="10">4</tspan></text><text x="0.6" y="17.6" font-family='"Liberation Sans", sans-serif' font-weight="bold" font-size="24">A</text><text transform="translate(27.3,174) rotate(-90)" font-family='"Liberation Serif", serif' font-size="14">CD48</text><path d="M22.2 136.8V42" stroke="#000" stroke-width="1.3"/><path d="M22.2 34.3 L17.6 43.4 L26.8 43.4Z" fill="#000"/><text x="35.5" y="191" font-family='"Liberation Serif", serif' font-size="14">CD144</text><path d="M83.5 187.4H468" stroke="#000" stroke-width="1.3"/><path d="M477 187.4 L467.4 182.9 L467.4 191.9Z" fill="#000"/><rect x="60.3" y="219.0" width="120" height="90.0" fill="none" stroke="#a8a8a8" stroke-width="0.9"/><path d="M60.30 309.0V312.0M80.30 309.0V312.0M100.30 309.0V312.0M120.30 309.0V312.0M140.30 309.0V312.0M160.30 309.0V312.0M180.30 309.0V312.0" stroke="#a8a8a8" stroke-width="0.9"/><path d="M57.30 219.00H60.3M57.30 241.50H60.3M57.30 264.00H60.3M57.30 286.50H60.3M57.30 309.00H60.3" stroke="#a8a8a8" stroke-width="0.9"/><path d="M60.3 275.5H180.3" stroke="#3a3a3a" stroke-width="1.2"/><text x="53.10" y="223.30" font-family='"Liberation Serif", serif' font-size="10.5" text-anchor="end">100.00</text><text x="53.10" y="245.80" font-family='"Liberation Serif", serif' font-size="10.5" text-anchor="end">10.00</text><text x="53.10" y="268.30" font-family='"Liberation Serif", serif' font-size="10.5" text-anchor="end">1.00</text><text x="53.10" y="290.80" font-family='"Liberation Serif", serif' font-size="10.5" text-anchor="end">0.10</text><text x="53.10" y="313.30" font-family='"Liberation Serif", serif' font-size="10.5" text-anchor="end">0.01</text><text x="60.30" y="324" font-family='"Liberation Serif", serif' font-size="11.5" text-anchor="middle">4</text><text x="80.30" y="324" font-family='"Liberation Serif", serif' font-size="11.5" text-anchor="middle">6</text><text x="100.30" y="324" font-family='"Liberation Serif", serif' font-size="11.5" text-anchor="middle">8</text><text x="120.30" y="324" font-family='"Liberation Serif", serif' font-size="11.5" text-anchor="middle">10</text><text x="140.30" y="324" font-family='"Liberation Serif", serif' font-size="11.5" text-anchor="middle">12</text><text x="160.30" y="324" font-family='"Liberation Serif", serif' font-size="11.5" text-anchor="middle">14</text><text x="180.30" y="324" font-family='"Liberation Serif", serif' font-size="11.5" text-anchor="middle">16</text><text x="120.30" y="335.5" font-family='"Liberation Serif", serif' font-size="11.5" text-anchor="middle">(weeks)</text><polyline points="60.30,259.50 80.30,262.50 100.30,289.00 140.30,282.00 180.30,294.00" fill="none" stroke="#d03248" stroke-width="1.1"/><polyline points="60.30,270.00 80.30,280.50 100.30,283.00 140.30,274.50 180.30,296.00" fill="none" stroke="#d03248" stroke-width="1.1"/><polyline points="60.30,273.75 80.30,275.00 100.30,294.00 140.30,278.75 180.30,287.00" fill="none" stroke="#d03248" stroke-width="1.1"/><polyline points="60.30,277.50 80.30,290.50 100.30,289.50 140.30,292.00 180.30,293.00" fill="none" stroke="#d03248" stroke-width="1.1"/><polyline points="60.30,283.75 80.30,275.00 100.30,283.00 140.30,282.00 180.30,294.00" fill="none" stroke="#d03248" stroke-width="1.1"/><polyline points="60.30,297.00 80.30,280.50 100.30,294.00 140.30,298.00 180.30,296.00" fill="none" stroke="#d03248" stroke-width="1.1"/><circle cx="60.30" cy="259.50" r="2.95" fill="#fff" stroke="#d03248" stroke-width="0.8"/><circle cx="80.30" cy="262.50" r="2.95" fill="#fff" stroke="#d03248" stroke-width="0.8"/><circle cx="100.30" cy="289.00" r="2.95" fill="#fff" stroke="#d03248" stroke-width="0.8"/><circle cx="140.30" cy="282.00" r="2.95" fill="#fff" stroke="#d03248" stroke-width="0.8"/><circle cx="180.30" cy="294.00" r="2.95" fill="#fff" stroke="#d03248" stroke-width="0.8"/><circle cx="60.30" cy="270.00" r="2.95" fill="#fff" stroke="#d03248" stroke-width="0.8"/><circle cx="80.30" cy="280.50" r="2.95" fill="#fff" stroke="#d03248" stroke-width="0.8"/><circle cx="100.30" cy="283.00" r="2.95" fill="#fff" stroke="#d03248" stroke-width="0.8"/><circle cx="140.30" cy="274.50" r="2.95" fill="#fff" stroke="#d03248" stroke-width="0.8"/><circle cx="180.30" cy="296.00" r="2.95" fill="#fff" stroke="#d03248" stroke-width="0.8"/><circle cx="60.30" cy="273.75" r="2.95" fill="#fff" stroke="#d03248" stroke-width="0.8"/><circle cx="80.30" cy="275.00" r="2.95" fill="#fff" stroke="#d03248" stroke-width="0.8"/><circle cx="100.30" cy="294.00" r="2.95" fill="#fff" stroke="#d03248" stroke-width="0.8"/><circle cx="140.30" cy="278.75" r="2.95" fill="#fff" stroke="#d03248" stroke-width="0.8"/><circle cx="180.30" cy="287.00" r="2.95" fill="#fff" stroke="#d03248" stroke-width="0.8"/><circle cx="60.30" cy="277.50" r="2.95" fill="#fff" stroke="#d03248" stroke-width="0.8"/><circle cx="80.30" cy="290.50" r="2.95" fill="#fff" stroke="#d03248" stroke-width="0.8"/><circle cx="100.30" cy="289.50" r="2.95" fill="#fff" stroke="#d03248" stroke-width="0.8"/><circle cx="140.30" cy="292.00" r="2.95" fill="#fff" stroke="#d03248" stroke-width="0.8"/><circle cx="180.30" cy="293.00" r="2.95" fill="#fff" stroke="#d03248" stroke-width="0.8"/><circle cx="60.30" cy="283.75" r="2.95" fill="#fff" stroke="#d03248" stroke-width="0.8"/><circle cx="80.30" cy="275.00" r="2.95" fill="#fff" stroke="#d03248" stroke-width="0.8"/><circle cx="100.30" cy="283.00" r="2.95" fill="#fff" stroke="#d03248" stroke-width="0.8"/><circle cx="140.30" cy="282.00" r="2.95" fill="#fff" stroke="#d03248" stroke-width="0.8"/><circle cx="180.30" cy="294.00" r="2.95" fill="#fff" stroke="#d03248" stroke-width="0.8"/><circle cx="60.30" cy="297.00" r="2.95" fill="#fff" stroke="#d03248" stroke-width="0.8"/><circle cx="80.30" cy="280.50" r="2.95" fill="#fff" stroke="#d03248" stroke-width="0.8"/><circle cx="100.30" cy="294.00" r="2.95" fill="#fff" stroke="#d03248" stroke-width="0.8"/><circle cx="140.30" cy="298.00" r="2.95" fill="#fff" stroke="#d03248" stroke-width="0.8"/><circle cx="180.30" cy="296.00" r="2.95" fill="#fff" stroke="#d03248" stroke-width="0.8"/><polyline points="60.30,217.60 80.30,218.90 100.30,218.70 140.30,219.20 180.30,219.20" fill="none" stroke="#1d3284" stroke-width="1.1"/><polyline points="60.30,218.00 80.30,219.00 100.30,219.00 140.30,219.50 180.30,219.50" fill="none" stroke="#1d3284" stroke-width="1.1"/><polyline points="60.30,219.00 80.30,219.00 100.30,219.00 140.30,219.00 180.30,219.00" fill="none" stroke="#1d3284" stroke-width="1.1"/><polyline points="60.30,221.10 80.30,219.00 100.30,222.00 140.30,220.80 180.30,221.20" fill="none" stroke="#1d3284" stroke-width="1.1"/><polyline points="60.30,221.00 80.30,219.50 100.30,219.00 140.30,220.00 180.30,220.00" fill="none" stroke="#1d3284" stroke-width="1.1"/><polyline points="60.30,226.00 80.30,219.00 100.30,222.00 140.30,224.50 180.30,224.50" fill="none" stroke="#1d3284" stroke-width="1.1"/><polyline points="60.30,226.00 80.30,219.50 100.30,219.00 140.30,219.00 180.30,219.00" fill="none" stroke="#1d3284" stroke-width="1.1"/><polyline points="60.30,219.00 80.30,218.50 100.30,219.00 140.30,219.00 180.30,219.00" fill="none" stroke="#1d3284" stroke-width="1.1"/><polyline points="60.30,220.00 80.30,219.00 100.30,220.00 140.30,219.50 180.30,219.50" fill="none" stroke="#1d3284" stroke-width="1.1"/><circle cx="60.30" cy="217.60" r="2.95" fill="#fff" stroke="#1d3284" stroke-width="0.8"/><circle cx="80.30" cy="218.90" r="2.95" fill="#fff" stroke="#1d3284" stroke-width="0.8"/><circle cx="100.30" cy="218.70" r="2.95" fill="#fff" stroke="#1d3284" stroke-width="0.8"/><circle cx="140.30" cy="219.20" r="2.95" fill="#fff" stroke="#1d3284" stroke-width="0.8"/><circle cx="180.30" cy="219.20" r="2.95" fill="#fff" stroke="#1d3284" stroke-width="0.8"/><circle cx="60.30" cy="218.00" r="2.95" fill="#fff" stroke="#1d3284" stroke-width="0.8"/><circle cx="80.30" cy="219.00" r="2.95" fill="#fff" stroke="#1d3284" stroke-width="0.8"/><circle cx="100.30" cy="219.00" r="2.95" fill="#fff" stroke="#1d3284" stroke-width="0.8"/><circle cx="140.30" cy="219.50" r="2.95" fill="#fff" stroke="#1d3284" stroke-width="0.8"/><circle cx="180.30" cy="219.50" r="2.95" fill="#fff" stroke="#1d3284" stroke-width="0.8"/><circle cx="60.30" cy="219.00" r="2.95" fill="#fff" stroke="#1d3284" stroke-width="0.8"/><circle cx="80.30" cy="219.00" r="2.95" fill="#fff" stroke="#1d3284" stroke-width="0.8"/><circle cx="100.30" cy="219.00" r="2.95" fill="#fff" stroke="#1d3284" stroke-width="0.8"/><circle cx="140.30" cy="219.00" r="2.95" fill="#fff" stroke="#1d3284" stroke-width="0.8"/><circle cx="180.30" cy="219.00" r="2.95" fill="#fff" stroke="#1d3284" stroke-width="0.8"/><circle cx="60.30" cy="221.10" r="2.95" fill="#fff" stroke="#1d3284" stroke-width="0.8"/><circle cx="80.30" cy="219.00" r="2.95" fill="#fff" stroke="#1d3284" stroke-width="0.8"/><circle cx="100.30" cy="222.00" r="2.95" fill="#fff" stroke="#1d3284" stroke-width="0.8"/><circle cx="140.30" cy="220.80" r="2.95" fill="#fff" stroke="#1d3284" stroke-width="0.8"/><circle cx="180.30" cy="221.20" r="2.95" fill="#fff" stroke="#1d3284" stroke-width="0.8"/><circle cx="60.30" cy="221.00" r="2.95" fill="#fff" stroke="#1d3284" stroke-width="0.8"/><circle cx="80.30" cy="219.50" r="2.95" fill="#fff" stroke="#1d3284" stroke-width="0.8"/><circle cx="100.30" cy="219.00" r="2.95" fill="#fff" stroke="#1d3284" stroke-width="0.8"/><circle cx="140.30" cy="220.00" r="2.95" fill="#fff" stroke="#1d3284" stroke-width="0.8"/><circle cx="180.30" cy="220.00" r="2.95" fill="#fff" stroke="#1d3284" stroke-width="0.8"/><circle cx="60.30" cy="226.00" r="2.95" fill="#fff" stroke="#1d3284" stroke-width="0.8"/><circle cx="80.30" cy="219.00" r="2.95" fill="#fff" stroke="#1d3284" stroke-width="0.8"/><circle cx="100.30" cy="222.00" r="2.95" fill="#fff" stroke="#1d3284" stroke-width="0.8"/><circle cx="140.30" cy="224.50" r="2.95" fill="#fff" stroke="#1d3284" stroke-width="0.8"/><circle cx="180.30" cy="224.50" r="2.95" fill="#fff" stroke="#1d3284" stroke-width="0.8"/><circle cx="60.30" cy="226.00" r="2.95" fill="#fff" stroke="#1d3284" stroke-width="0.8"/><circle cx="80.30" cy="219.50" r="2.95" fill="#fff" stroke="#1d3284" stroke-width="0.8"/><circle cx="100.30" cy="219.00" r="2.95" fill="#fff" stroke="#1d3284" stroke-width="0.8"/><circle cx="140.30" cy="219.00" r="2.95" fill="#fff" stroke="#1d3284" stroke-width="0.8"/><circle cx="180.30" cy="219.00" r="2.95" fill="#fff" stroke="#1d3284" stroke-width="0.8"/><circle cx="60.30" cy="219.00" r="2.95" fill="#fff" stroke="#1d3284" stroke-width="0.8"/><circle cx="80.30" cy="218.50" r="2.95" fill="#fff" stroke="#1d3284" stroke-width="0.8"/><circle cx="100.30" cy="219.00" r="2.95" fill="#fff" stroke="#1d3284" stroke-width="0.8"/><circle cx="140.30" cy="219.00" r="2.95" fill="#fff" stroke="#1d3284" stroke-width="0.8"/><circle cx="180.30" cy="219.00" r="2.95" fill="#fff" stroke="#1d3284" stroke-width="0.8"/><circle cx="60.30" cy="220.00" r="2.95" fill="#fff" stroke="#1d3284" stroke-width="0.8"/><circle cx="80.30" cy="219.00" r="2.95" fill="#fff" stroke="#1d3284" stroke-width="0.8"/><circle cx="100.30" cy="220.00" r="2.95" fill="#fff" stroke="#1d3284" stroke-width="0.8"/><circle cx="140.30" cy="219.50" r="2.95" fill="#fff" stroke="#1d3284" stroke-width="0.8"/><circle cx="180.30" cy="219.50" r="2.95" fill="#fff" stroke="#1d3284" stroke-width="0.8"/><rect x="225.3" y="219.0" width="120" height="90.0" fill="none" stroke="#a8a8a8" stroke-width="0.9"/><path d="M225.30 309.0V312.0M245.30 309.0V312.0M265.30 309.0V312.0M285.30 309.0V312.0M305.30 309.0V312.0M325.30 309.0V312.0M345.30 309.0V312.0" stroke="#a8a8a8" stroke-width="0.9"/><path d="M222.30 219.00H225.3M222.30 241.50H225.3M222.30 264.00H225.3M222.30 286.50H225.3M222.30 309.00H225.3" stroke="#a8a8a8" stroke-width="0.9"/><path d="M225.3 275.5H345.3" stroke="#3a3a3a" stroke-width="1.2"/><text x="218.10" y="223.30" font-family='"Liberation Serif", serif' font-size="10.5" text-anchor="end">100.00</text><text x="218.10" y="245.80" font-family='"Liberation Serif", serif' font-size="10.5" text-anchor="end">10.00</text><text x="218.10" y="268.30" font-family='"Liberation Serif", serif' font-size="10.5" text-anchor="end">1.00</text><text x="218.10" y="290.80" font-family='"Liberation Serif", serif' font-size="10.5" text-anchor="end">0.10</text><text x="218.10" y="313.30" font-family='"Liberation Serif", serif' font-size="10.5" text-anchor="end">0.01</text><text x="225.30" y="324" font-family='"Liberation Serif", serif' font-size="11.5" text-anchor="middle">4</text><text x="245.30" y="324" font-family='"Liberation Serif", serif' font-size="11.5" text-anchor="middle">6</text><text x="265.30" y="324" font-family='"Liberation Serif", serif' font-size="11.5" text-anchor="middle">8</text><text x="285.30" y="324" font-family='"Liberation Serif", serif' font-size="11.5" text-anchor="middle">10</text><text x="305.30" y="324" font-family='"Liberation Serif", serif' font-size="11.5" text-anchor="middle">12</text><text x="325.30" y="324" font-family='"Liberation Serif", serif' font-size="11.5" text-anchor="middle">14</text><text x="345.30" y="324" font-family='"Liberation Serif", serif' font-size="11.5" text-anchor="middle">16</text><text x="285.30" y="335.5" font-family='"Liberation Serif", serif' font-size="11.5" text-anchor="middle">(weeks)</text><polyline points="225.30,265.40 245.30,232.70 265.30,225.50 305.30,224.20 345.30,225.50" fill="none" stroke="#1d3284" stroke-width="1.1"/><polyline points="225.30,249.40 245.30,232.70 265.30,221.60 305.30,220.80 345.30,220.80" fill="none" stroke="#1d3284" stroke-width="1.1"/><polyline points="225.30,229.30 245.30,221.60 265.30,225.50 305.30,229.30 345.30,233.20" fill="none" stroke="#1d3284" stroke-width="1.1"/><polyline points="225.30,230.60 245.30,225.50 265.30,225.50 305.30,224.20 345.30,225.50" fill="none" stroke="#1d3284" stroke-width="1.1"/><polyline points="225.30,227.50 245.30,221.60 265.30,221.60 305.30,220.80 345.30,220.80" fill="none" stroke="#1d3284" stroke-width="1.1"/><circle cx="225.30" cy="265.40" r="2.95" fill="#fff" stroke="#1d3284" stroke-width="0.8"/><circle cx="245.30" cy="232.70" r="2.95" fill="#fff" stroke="#1d3284" stroke-width="0.8"/><circle cx="265.30" cy="225.50" r="2.95" fill="#fff" stroke="#1d3284" stroke-width="0.8"/><circle cx="305.30" cy="224.20" r="2.95" fill="#fff" stroke="#1d3284" stroke-width="0.8"/><circle cx="345.30" cy="225.50" r="2.95" fill="#fff" stroke="#1d3284" stroke-width="0.8"/><circle cx="225.30" cy="249.40" r="2.95" fill="#fff" stroke="#1d3284" stroke-width="0.8"/><circle cx="245.30" cy="232.70" r="2.95" fill="#fff" stroke="#1d3284" stroke-width="0.8"/><circle cx="265.30" cy="221.60" r="2.95" fill="#fff" stroke="#1d3284" stroke-width="0.8"/><circle cx="305.30" cy="220.80" r="2.95" fill="#fff" stroke="#1d3284" stroke-width="0.8"/><circle cx="345.30" cy="220.80" r="2.95" fill="#fff" stroke="#1d3284" stroke-width="0.8"/><circle cx="225.30" cy="229.30" r="2.95" fill="#fff" stroke="#1d3284" stroke-width="0.8"/><circle cx="245.30" cy="221.60" r="2.95" fill="#fff" stroke="#1d3284" stroke-width="0.8"/><circle cx="265.30" cy="225.50" r="2.95" fill="#fff" stroke="#1d3284" stroke-width="0.8"/><circle cx="305.30" cy="229.30" r="2.95" fill="#fff" stroke="#1d3284" stroke-width="0.8"/><circle cx="345.30" cy="233.20" r="2.95" fill="#fff" stroke="#1d3284" stroke-width="0.8"/><circle cx="225.30" cy="230.60" r="2.95" fill="#fff" stroke="#1d3284" stroke-width="0.8"/><circle cx="245.30" cy="225.50" r="2.95" fill="#fff" stroke="#1d3284" stroke-width="0.8"/><circle cx="265.30" cy="225.50" r="2.95" fill="#fff" stroke="#1d3284" stroke-width="0.8"/><circle cx="305.30" cy="224.20" r="2.95" fill="#fff" stroke="#1d3284" stroke-width="0.8"/><circle cx="345.30" cy="225.50" r="2.95" fill="#fff" stroke="#1d3284" stroke-width="0.8"/><circle cx="225.30" cy="227.50" r="2.95" fill="#fff" stroke="#1d3284" stroke-width="0.8"/><circle cx="245.30" cy="221.60" r="2.95" fill="#fff" stroke="#1d3284" stroke-width="0.8"/><circle cx="265.30" cy="221.60" r="2.95" fill="#fff" stroke="#1d3284" stroke-width="0.8"/><circle cx="305.30" cy="220.80" r="2.95" fill="#fff" stroke="#1d3284" stroke-width="0.8"/><circle cx="345.30" cy="220.80" r="2.95" fill="#fff" stroke="#1d3284" stroke-width="0.8"/><polyline points="225.30,222.40 245.30,219.80 265.30,218.50 305.30,219.00 345.30,218.50" fill="none" stroke="#d03248" stroke-width="1.1"/><polyline points="225.30,228.00 245.30,221.60 265.30,232.70 305.30,220.80 345.30,220.80" fill="none" stroke="#d03248" stroke-width="1.1"/><polyline points="225.30,227.00 245.30,221.00 265.30,221.60 305.30,219.00 345.30,218.50" fill="none" stroke="#d03248" stroke-width="1.1"/><polyline points="225.30,226.00 245.30,220.50 265.30,219.50 305.30,219.00 345.30,219.00" fill="none" stroke="#d03248" stroke-width="1.1"/><circle cx="225.30" cy="222.40" r="2.95" fill="#fff" stroke="#d03248" stroke-width="0.8"/><circle cx="245.30" cy="219.80" r="2.95" fill="#fff" stroke="#d03248" stroke-width="0.8"/><circle cx="265.30" cy="218.50" r="2.95" fill="#fff" stroke="#d03248" stroke-width="0.8"/><circle cx="305.30" cy="219.00" r="2.95" fill="#fff" stroke="#d03248" stroke-width="0.8"/><circle cx="345.30" cy="218.50" r="2.95" fill="#fff" stroke="#d03248" stroke-width="0.8"/><circle cx="225.30" cy="228.00" r="2.95" fill="#fff" stroke="#d03248" stroke-width="0.8"/><circle cx="245.30" cy="221.60" r="2.95" fill="#fff" stroke="#d03248" stroke-width="0.8"/><circle cx="265.30" cy="232.70" r="2.95" fill="#fff" stroke="#d03248" stroke-width="0.8"/><circle cx="305.30" cy="220.80" r="2.95" fill="#fff" stroke="#d03248" stroke-width="0.8"/><circle cx="345.30" cy="220.80" r="2.95" fill="#fff" stroke="#d03248" stroke-width="0.8"/><circle cx="225.30" cy="227.00" r="2.95" fill="#fff" stroke="#d03248" stroke-width="0.8"/><circle cx="245.30" cy="221.00" r="2.95" fill="#fff" stroke="#d03248" stroke-width="0.8"/><circle cx="265.30" cy="221.60" r="2.95" fill="#fff" stroke="#d03248" stroke-width="0.8"/><circle cx="305.30" cy="219.00" r="2.95" fill="#fff" stroke="#d03248" stroke-width="0.8"/><circle cx="345.30" cy="218.50" r="2.95" fill="#fff" stroke="#d03248" stroke-width="0.8"/><circle cx="225.30" cy="226.00" r="2.95" fill="#fff" stroke="#d03248" stroke-width="0.8"/><circle cx="245.30" cy="220.50" r="2.95" fill="#fff" stroke="#d03248" stroke-width="0.8"/><circle cx="265.30" cy="219.50" r="2.95" fill="#fff" stroke="#d03248" stroke-width="0.8"/><circle cx="305.30" cy="219.00" r="2.95" fill="#fff" stroke="#d03248" stroke-width="0.8"/><circle cx="345.30" cy="219.00" r="2.95" fill="#fff" stroke="#d03248" stroke-width="0.8"/><rect x="391.2" y="219.0" width="120" height="90.0" fill="none" stroke="#a8a8a8" stroke-width="0.9"/><path d="M391.20 309.0V312.0M411.20 309.0V312.0M431.20 309.0V312.0M451.20 309.0V312.0M471.20 309.0V312.0M491.20 309.0V312.0M511.20 309.0V312.0" stroke="#a8a8a8" stroke-width="0.9"/><path d="M388.20 219.00H391.2M388.20 241.50H391.2M388.20 264.00H391.2M388.20 286.50H391.2M388.20 309.00H391.2" stroke="#a8a8a8" stroke-width="0.9"/><path d="M391.2 275.5H511.2" stroke="#3a3a3a" stroke-width="1.2"/><text x="384.00" y="223.30" font-family='"Liberation Serif", serif' font-size="10.5" text-anchor="end">100.00</text><text x="384.00" y="245.80" font-family='"Liberation Serif", serif' font-size="10.5" text-anchor="end">10.00</text><text x="384.00" y="268.30" font-family='"Liberation Serif", serif' font-size="10.5" text-anchor="end">1.00</text><text x="384.00" y="290.80" font-family='"Liberation Serif", serif' font-size="10.5" text-anchor="end">0.10</text><text x="384.00" y="313.30" font-family='"Liberation Serif", serif' font-size="10.5" text-anchor="end">0.01</text><text x="391.20" y="324" font-family='"Liberation Serif", serif' font-size="11.5" text-anchor="middle">4</text><text x="411.20" y="324" font-family='"Liberation Serif", serif' font-size="11.5" text-anchor="middle">6</text><text x="431.20" y="324" font-family='"Liberation Serif", serif' font-size="11.5" text-anchor="middle">8</text><text x="451.20" y="324" font-family='"Liberation Serif", serif' font-size="11.5" text-anchor="middle">10</text><text x="471.20" y="324" font-family='"Liberation Serif", serif' font-size="11.5" text-anchor="middle">12</text><text x="491.20" y="324" font-family='"Liberation Serif", serif' font-size="11.5" text-anchor="middle">14</text><text x="511.20" y="324" font-family='"Liberation Serif", serif' font-size="11.5" text-anchor="middle">16</text><text x="451.20" y="335.5" font-family='"Liberation Serif", serif' font-size="11.5" text-anchor="middle">(weeks)</text><polyline points="391.20,230.00 411.20,236.50 431.20,233.25 471.20,230.75 511.20,236.50" fill="none" stroke="#d03248" stroke-width="1.1"/><polyline points="391.20,239.00 411.20,242.00 431.20,233.25 471.20,234.00 511.20,236.50" fill="none" stroke="#d03248" stroke-width="1.1"/><polyline points="391.20,241.50 411.20,236.50 431.20,240.75 471.20,234.00 511.20,244.00" fill="none" stroke="#d03248" stroke-width="1.1"/><polyline points="391.20,254.00 411.20,247.00 431.20,245.75 471.20,243.25 511.20,247.00" fill="none" stroke="#d03248" stroke-width="1.1"/><polyline points="391.20,257.00 411.20,247.00 431.20,245.75 471.20,246.50 511.20,244.00" fill="none" stroke="#d03248" stroke-width="1.1"/><polyline points="391.20,259.50 411.20,252.50 431.20,251.50 471.20,251.50 511.20,253.25" fill="none" stroke="#d03248" stroke-width="1.1"/><polyline points="391.20,254.00 411.20,242.00 431.20,245.75 471.20,246.50 511.20,247.00" fill="none" stroke="#d03248" stroke-width="1.1"/><polyline points="391.20,257.00 411.20,252.50 431.20,251.50 471.20,251.50 511.20,253.25" fill="none" stroke="#d03248" stroke-width="1.1"/><circle cx="391.20" cy="230.00" r="2.95" fill="#fff" stroke="#d03248" stroke-width="0.8"/><circle cx="411.20" cy="236.50" r="2.95" fill="#fff" stroke="#d03248" stroke-width="0.8"/><circle cx="431.20" cy="233.25" r="2.95" fill="#fff" stroke="#d03248" stroke-width="0.8"/><circle cx="471.20" cy="230.75" r="2.95" fill="#fff" stroke="#d03248" stroke-width="0.8"/><circle cx="511.20" cy="236.50" r="2.95" fill="#fff" stroke="#d03248" stroke-width="0.8"/><circle cx="391.20" cy="239.00" r="2.95" fill="#fff" stroke="#d03248" stroke-width="0.8"/><circle cx="411.20" cy="242.00" r="2.95" fill="#fff" stroke="#d03248" stroke-width="0.8"/><circle cx="431.20" cy="233.25" r="2.95" fill="#fff" stroke="#d03248" stroke-width="0.8"/><circle cx="471.20" cy="234.00" r="2.95" fill="#fff" stroke="#d03248" stroke-width="0.8"/><circle cx="511.20" cy="236.50" r="2.95" fill="#fff" stroke="#d03248" stroke-width="0.8"/><circle cx="391.20" cy="241.50" r="2.95" fill="#fff" stroke="#d03248" stroke-width="0.8"/><circle cx="411.20" cy="236.50" r="2.95" fill="#fff" stroke="#d03248" stroke-width="0.8"/><circle cx="431.20" cy="240.75" r="2.95" fill="#fff" stroke="#d03248" stroke-width="0.8"/><circle cx="471.20" cy="234.00" r="2.95" fill="#fff" stroke="#d03248" stroke-width="0.8"/><circle cx="511.20" cy="244.00" r="2.95" fill="#fff" stroke="#d03248" stroke-width="0.8"/><circle cx="391.20" cy="254.00" r="2.95" fill="#fff" stroke="#d03248" stroke-width="0.8"/><circle cx="411.20" cy="247.00" r="2.95" fill="#fff" stroke="#d03248" stroke-width="0.8"/><circle cx="431.20" cy="245.75" r="2.95" fill="#fff" stroke="#d03248" stroke-width="0.8"/><circle cx="471.20" cy="243.25" r="2.95" fill="#fff" stroke="#d03248" stroke-width="0.8"/><circle cx="511.20" cy="247.00" r="2.95" fill="#fff" stroke="#d03248" stroke-width="0.8"/><circle cx="391.20" cy="257.00" r="2.95" fill="#fff" stroke="#d03248" stroke-width="0.8"/><circle cx="411.20" cy="247.00" r="2.95" fill="#fff" stroke="#d03248" stroke-width="0.8"/><circle cx="431.20" cy="245.75" r="2.95" fill="#fff" stroke="#d03248" stroke-width="0.8"/><circle cx="471.20" cy="246.50" r="2.95" fill="#fff" stroke="#d03248" stroke-width="0.8"/><circle cx="511.20" cy="244.00" r="2.95" fill="#fff" stroke="#d03248" stroke-width="0.8"/><circle cx="391.20" cy="259.50" r="2.95" fill="#fff" stroke="#d03248" stroke-width="0.8"/><circle cx="411.20" cy="252.50" r="2.95" fill="#fff" stroke="#d03248" stroke-width="0.8"/><circle cx="431.20" cy="251.50" r="2.95" fill="#fff" stroke="#d03248" stroke-width="0.8"/><circle cx="471.20" cy="251.50" r="2.95" fill="#fff" stroke="#d03248" stroke-width="0.8"/><circle cx="511.20" cy="253.25" r="2.95" fill="#fff" stroke="#d03248" stroke-width="0.8"/><circle cx="391.20" cy="254.00" r="2.95" fill="#fff" stroke="#d03248" stroke-width="0.8"/><circle cx="411.20" cy="242.00" r="2.95" fill="#fff" stroke="#d03248" stroke-width="0.8"/><circle cx="431.20" cy="245.75" r="2.95" fill="#fff" stroke="#d03248" stroke-width="0.8"/><circle cx="471.20" cy="246.50" r="2.95" fill="#fff" stroke="#d03248" stroke-width="0.8"/><circle cx="511.20" cy="247.00" r="2.95" fill="#fff" stroke="#d03248" stroke-width="0.8"/><circle cx="391.20" cy="257.00" r="2.95" fill="#fff" stroke="#d03248" stroke-width="0.8"/><circle cx="411.20" cy="252.50" r="2.95" fill="#fff" stroke="#d03248" stroke-width="0.8"/><circle cx="431.20" cy="251.50" r="2.95" fill="#fff" stroke="#d03248" stroke-width="0.8"/><circle cx="471.20" cy="251.50" r="2.95" fill="#fff" stroke="#d03248" stroke-width="0.8"/><circle cx="511.20" cy="253.25" r="2.95" fill="#fff" stroke="#d03248" stroke-width="0.8"/><polyline points="391.20,264.50 411.20,289.50 431.20,295.75 471.20,297.00 511.20,293.00" fill="none" stroke="#1d3284" stroke-width="1.1"/><polyline points="391.20,271.25 411.20,278.00 431.20,277.50 471.20,291.25 511.20,287.00" fill="none" stroke="#1d3284" stroke-width="1.1"/><polyline points="391.20,271.25 411.20,297.00 431.20,299.50 471.20,298.75 511.20,296.25" fill="none" stroke="#1d3284" stroke-width="1.1"/><polyline points="391.20,271.25 411.20,282.00 431.20,290.00 471.20,293.75 511.20,289.50" fill="none" stroke="#1d3284" stroke-width="1.1"/><polyline points="391.20,298.00 411.20,282.00 431.20,285.00 471.20,297.00 511.20,298.75" fill="none" stroke="#1d3284" stroke-width="1.1"/><polyline points="391.20,303.00 411.20,289.50 431.20,295.75 471.20,293.75 511.20,293.00" fill="none" stroke="#1d3284" stroke-width="1.1"/><polyline points="391.20,298.00 411.20,278.00 431.20,290.00 471.20,297.00 511.20,296.25" fill="none" stroke="#1d3284" stroke-width="1.1"/><polyline points="391.20,303.00 411.20,297.00 431.20,299.50 471.20,291.25 511.20,287.00" fill="none" stroke="#1d3284" stroke-width="1.1"/><polyline points="391.20,271.25 411.20,289.50 431.20,285.00 471.20,298.75 511.20,298.75" fill="none" stroke="#1d3284" stroke-width="1.1"/><circle cx="391.20" cy="264.50" r="2.95" fill="#fff" stroke="#1d3284" stroke-width="0.8"/><circle cx="411.20" cy="289.50" r="2.95" fill="#fff" stroke="#1d3284" stroke-width="0.8"/><circle cx="431.20" cy="295.75" r="2.95" fill="#fff" stroke="#1d3284" stroke-width="0.8"/><circle cx="471.20" cy="297.00" r="2.95" fill="#fff" stroke="#1d3284" stroke-width="0.8"/><circle cx="511.20" cy="293.00" r="2.95" fill="#fff" stroke="#1d3284" stroke-width="0.8"/><circle cx="391.20" cy="271.25" r="2.95" fill="#fff" stroke="#1d3284" stroke-width="0.8"/><circle cx="411.20" cy="278.00" r="2.95" fill="#fff" stroke="#1d3284" stroke-width="0.8"/><circle cx="431.20" cy="277.50" r="2.95" fill="#fff" stroke="#1d3284" stroke-width="0.8"/><circle cx="471.20" cy="291.25" r="2.95" fill="#fff" stroke="#1d3284" stroke-width="0.8"/><circle cx="511.20" cy="287.00" r="2.95" fill="#fff" stroke="#1d3284" stroke-width="0.8"/><circle cx="391.20" cy="271.25" r="2.95" fill="#fff" stroke="#1d3284" stroke-width="0.8"/><circle cx="411.20" cy="297.00" r="2.95" fill="#fff" stroke="#1d3284" stroke-width="0.8"/><circle cx="431.20" cy="299.50" r="2.95" fill="#fff" stroke="#1d3284" stroke-width="0.8"/><circle cx="471.20" cy="298.75" r="2.95" fill="#fff" stroke="#1d3284" stroke-width="0.8"/><circle cx="511.20" cy="296.25" r="2.95" fill="#fff" stroke="#1d3284" stroke-width="0.8"/><circle cx="391.20" cy="271.25" r="2.95" fill="#fff" stroke="#1d3284" stroke-width="0.8"/><circle cx="411.20" cy="282.00" r="2.95" fill="#fff" stroke="#1d3284" stroke-width="0.8"/><circle cx="431.20" cy="290.00" r="2.95" fill="#fff" stroke="#1d3284" stroke-width="0.8"/><circle cx="471.20" cy="293.75" r="2.95" fill="#fff" stroke="#1d3284" stroke-width="0.8"/><circle cx="511.20" cy="289.50" r="2.95" fill="#fff" stroke="#1d3284" stroke-width="0.8"/><circle cx="391.20" cy="298.00" r="2.95" fill="#fff" stroke="#1d3284" stroke-width="0.8"/><circle cx="411.20" cy="282.00" r="2.95" fill="#fff" stroke="#1d3284" stroke-width="0.8"/><circle cx="431.20" cy="285.00" r="2.95" fill="#fff" stroke="#1d3284" stroke-width="0.8"/><circle cx="471.20" cy="297.00" r="2.95" fill="#fff" stroke="#1d3284" stroke-width="0.8"/><circle cx="511.20" cy="298.75" r="2.95" fill="#fff" stroke="#1d3284" stroke-width="0.8"/><circle cx="391.20" cy="303.00" r="2.95" fill="#fff" stroke="#1d3284" stroke-width="0.8"/><circle cx="411.20" cy="289.50" r="2.95" fill="#fff" stroke="#1d3284" stroke-width="0.8"/><circle cx="431.20" cy="295.75" r="2.95" fill="#fff" stroke="#1d3284" stroke-width="0.8"/><circle cx="471.20" cy="293.75" r="2.95" fill="#fff" stroke="#1d3284" stroke-width="0.8"/><circle cx="511.20" cy="293.00" r="2.95" fill="#fff" stroke="#1d3284" stroke-width="0.8"/><circle cx="391.20" cy="298.00" r="2.95" fill="#fff" stroke="#1d3284" stroke-width="0.8"/><circle cx="411.20" cy="278.00" r="2.95" fill="#fff" stroke="#1d3284" stroke-width="0.8"/><circle cx="431.20" cy="290.00" r="2.95" fill="#fff" stroke="#1d3284" stroke-width="0.8"/><circle cx="471.20" cy="297.00" r="2.95" fill="#fff" stroke="#1d3284" stroke-width="0.8"/><circle cx="511.20" cy="296.25" r="2.95" fill="#fff" stroke="#1d3284" stroke-width="0.8"/><circle cx="391.20" cy="303.00" r="2.95" fill="#fff" stroke="#1d3284" stroke-width="0.8"/><circle cx="411.20" cy="297.00" r="2.95" fill="#fff" stroke="#1d3284" stroke-width="0.8"/><circle cx="431.20" cy="299.50" r="2.95" fill="#fff" stroke="#1d3284" stroke-width="0.8"/><circle cx="471.20" cy="291.25" r="2.95" fill="#fff" stroke="#1d3284" stroke-width="0.8"/><circle cx="511.20" cy="287.00" r="2.95" fill="#fff" stroke="#1d3284" stroke-width="0.8"/><circle cx="391.20" cy="271.25" r="2.95" fill="#fff" stroke="#1d3284" stroke-width="0.8"/><circle cx="411.20" cy="289.50" r="2.95" fill="#fff" stroke="#1d3284" stroke-width="0.8"/><circle cx="431.20" cy="285.00" r="2.95" fill="#fff" stroke="#1d3284" stroke-width="0.8"/><circle cx="471.20" cy="298.75" r="2.95" fill="#fff" stroke="#1d3284" stroke-width="0.8"/><circle cx="511.20" cy="298.75" r="2.95" fill="#fff" stroke="#1d3284" stroke-width="0.8"/><text x="64.2" y="351.2" font-family='"Liberation Serif", serif' font-size="13.9" fill="#bd2d38">LT-multilineage</text><text x="158.4" y="351.2" font-family='"Liberation Serif", serif' font-size="14.2" fill="#bd2d38">0/6</text><text x="64.2" y="371.9" font-family='"Liberation Serif", serif' font-size="13.9" fill="#2b3872">LT-multilineage</text><text x="158.4" y="371.9" font-family='"Liberation Serif", serif' font-size="14.2" fill="#2b3872">9/9</text><text x="230.4" y="351.2" font-family='"Liberation Serif", serif' font-size="13.9" fill="#bd2d38">LT-multilineage</text><text x="324.4" y="351.2" font-family='"Liberation Serif", serif' font-size="14.2" fill="#bd2d38">4/4</text><text x="230.4" y="371.9" font-family='"Liberation Serif", serif' font-size="13.9" fill="#2b3872">LT-multilineage</text><text x="324.4" y="371.9" font-family='"Liberation Serif", serif' font-size="14.2" fill="#2b3872">5/5</text><text x="395.4" y="351.2" font-family='"Liberation Serif", serif' font-size="13.9" fill="#bd2d38">LT-multilineage</text><text x="490.3" y="351.2" font-family='"Liberation Serif", serif' font-size="14.2" fill="#bd2d38">8/8</text><text x="395.4" y="371.9" font-family='"Liberation Serif", serif' font-size="13.9" fill="#2b3872">LT-multilineage</text><text x="490.3" y="371.9" font-family='"Liberation Serif", serif' font-size="14.2" fill="#2b3872">0/9</text><text x="0" y="351.2" font-family='"Liberation Serif", serif' font-size="13.4" fill="#bd2d38">CD144<tspan dy="-5.5" font-size="9.5">-</tspan></text><text x="0" y="371.9" font-family='"Liberation Serif", serif' font-size="13.4" fill="#2b3872">CD144<tspan dy="-5.5" font-size="9.5">+</tspan></text><text transform="translate(10.3,272.5) rotate(-90)" font-family='"Liberation Serif", serif' font-size="14" text-anchor="middle">% Donor-derived</text><text transform="translate(26.2,271.3) rotate(-90)" font-family='"Liberation Serif", serif' font-size="14" text-anchor="middle">myeloid cells</text><text x="-1.6" y="215.2" font-family='"Liberation Sans", sans-serif' font-weight="bold" font-size="23">B</text><rect x="49.8" y="415.3" width="130.00" height="139.30" fill="none" stroke="#000" stroke-width="1"/><path d="M46.00 554.60H49.8M47.40 547.63H49.8M47.40 540.67H49.8M47.40 533.71H49.8M47.40 526.74H49.8M46.00 519.77H49.8M47.40 512.81H49.8M47.40 505.85H49.8M47.40 498.88H49.8M47.40 491.92H49.8M46.00 484.95H49.8M47.40 477.99H49.8M47.40 471.02H49.8M47.40 464.06H49.8M47.40 457.09H49.8M46.00 450.12H49.8M47.40 443.16H49.8M47.40 436.19H49.8M47.40 429.23H49.8M47.40 422.26H49.8M46.00 415.30H49.8M49.80 554.60V558.60M59.58 554.60V556.80M65.31 554.60V556.80M69.37 554.60V556.80M72.52 554.60V556.80M75.09 554.60V556.80M77.27 554.60V556.80M79.15 554.60V556.80M80.81 554.60V556.80M82.30 554.60V558.60M92.08 554.60V556.80M97.81 554.60V556.80M101.87 554.60V556.80M105.02 554.60V556.80M107.59 554.60V556.80M109.77 554.60V556.80M111.65 554.60V556.80M113.31 554.60V556.80M114.80 554.60V558.60M124.58 554.60V556.80M130.31 554.60V556.80M134.37 554.60V556.80M137.52 554.60V556.80M140.09 554.60V556.80M142.27 554.60V556.80M144.15 554.60V556.80M145.81 554.60V556.80M147.30 554.60V558.60M157.08 554.60V556.80M162.81 554.60V556.80M166.87 554.60V556.80M170.02 554.60V556.80M172.59 554.60V556.80M174.77 554.60V556.80M176.65 554.60V556.80M178.31 554.60V556.80M179.80 554.60V558.60" stroke="#000" stroke-width="0.9" fill="none"/><text transform="translate(41.90,555.00) rotate(-90) scale(0.9,1)" font-family='"Liberation Sans", sans-serif' font-size="10.4" text-anchor="middle">0</text><text transform="translate(41.90,520.17) rotate(-90) scale(0.9,1)" font-family='"Liberation Sans", sans-serif' font-size="10.4" text-anchor="middle">5</text><text transform="translate(41.90,485.35) rotate(-90) scale(0.9,1)" font-family='"Liberation Sans", sans-serif' font-size="10.4" text-anchor="middle">10</text><text transform="translate(41.90,450.52) rotate(-90) scale(0.9,1)" font-family='"Liberation Sans", sans-serif' font-size="10.4" text-anchor="middle">15</text><text transform="translate(41.90,415.70) rotate(-90) scale(0.9,1)" font-family='"Liberation Sans", sans-serif' font-size="10.4" text-anchor="middle">20</text><text transform="translate(50.60,570.4) scale(0.8,1)" font-family='"Liberation Sans", sans-serif' font-size="10.6" text-anchor="middle">10<tspan dx="0.4" dy="-5.4" font-size="10">0</tspan></text><text transform="translate(83.10,570.4) scale(0.8,1)" font-family='"Liberation Sans", sans-serif' font-size="10.6" text-anchor="middle">10<tspan dx="0.4" dy="-5.4" font-size="10">1</tspan></text><text transform="translate(115.60,570.4) scale(0.8,1)" font-family='"Liberation Sans", sans-serif' font-size="10.6" text-anchor="middle">10<tspan dx="0.4" dy="-5.4" font-size="10">2</tspan></text><text transform="translate(148.10,570.4) scale(0.8,1)" font-family='"Liberation Sans", sans-serif' font-size="10.6" text-anchor="middle">10<tspan dx="0.4" dy="-5.4" font-size="10">3</tspan></text><text transform="translate(180.60,570.4) scale(0.8,1)" font-family='"Liberation Sans", sans-serif' font-size="10.6" text-anchor="middle">10<tspan dx="0.4" dy="-5.4" font-size="10">4</tspan></text><path d="M49.80 554.23 L49.81 546.92 L51.15 554.23 L53.65 554.23 L54.62 547.31 L63.27 547.31 L64.23 540.19 L65.19 547.31 L70.96 547.31 L71.92 541.15 L73.46 545.00 L74.81 533.46 L76.15 540.19 L79.23 540.19 L80.58 520.96 L81.92 527.69 L83.08 524.81 L84.42 532.50 L85.77 527.69 L86.92 504.62 L87.69 498.85 L88.85 504.62 L90.77 505.58 L91.54 519.04 L92.69 506.54 L94.04 509.42 L95.38 477.69 L96.54 489.23 L97.88 493.08 L99.23 501.73 L100.38 485.38 L101.15 498.85 L102.31 512.31 L103.65 491.15 L105.00 485.38 L106.15 489.23 L106.92 504.62 L108.46 520.00 L110.00 505.58 L111.35 508.46 L112.31 521.92 L114.23 526.73 L115.77 536.35 L117.12 538.27 L118.46 544.04 L120.00 554.23 L121.54 554.23 L122.88 547.88 L123.85 554.23 L124.81 547.88 L125.77 554.23 L131.54 554.23 L132.50 547.88 L133.46 554.23 L145.00 554.23" fill="none" stroke="#111" stroke-width="1.1" stroke-linejoin="miter"/><path d="M81.25 467.5H138.25M81.25 463.6V471.4M138.25 463.6V471.4" stroke="#1f2f80" stroke-width="1.9" fill="none"/><text x="80" y="457.6" font-family='"Liberation Serif", serif' font-size="13.6">86.3<tspan text-decoration="underline">+</tspan>4.8%</text><text x="51" y="405.4" font-family='"Liberation Serif", serif' font-size="13.7">Sca-1<tspan dy="-6" dx="0.6" font-size="10">+</tspan><tspan dy="6">Lin</tspan><tspan dy="-6" font-size="10">-</tspan><tspan dy="6">Mac-1</tspan><tspan dy="-6" dx="0.6" font-size="10">+</tspan></text><rect x="214.9" y="415.3" width="129.60" height="139.30" fill="none" stroke="#000" stroke-width="1"/><path d="M211.10 554.60H214.9M212.50 547.63H214.9M212.50 540.67H214.9M212.50 533.71H214.9M212.50 526.74H214.9M211.10 519.77H214.9M212.50 512.81H214.9M212.50 505.85H214.9M212.50 498.88H214.9M212.50 491.92H214.9M211.10 484.95H214.9M212.50 477.99H214.9M212.50 471.02H214.9M212.50 464.06H214.9M212.50 457.09H214.9M211.10 450.12H214.9M212.50 443.16H214.9M212.50 436.19H214.9M212.50 429.23H214.9M212.50 422.26H214.9M211.10 415.30H214.9M214.90 554.60V558.60M224.65 554.60V556.80M230.36 554.60V556.80M234.41 554.60V556.80M237.55 554.60V556.80M240.11 554.60V556.80M242.28 554.60V556.80M244.16 554.60V556.80M245.82 554.60V556.80M247.30 554.60V558.60M257.05 554.60V556.80M262.76 554.60V556.80M266.81 554.60V556.80M269.95 554.60V556.80M272.51 554.60V556.80M274.68 554.60V556.80M276.56 554.60V556.80M278.22 554.60V556.80M279.70 554.60V558.60M289.45 554.60V556.80M295.16 554.60V556.80M299.21 554.60V556.80M302.35 554.60V556.80M304.91 554.60V556.80M307.08 554.60V556.80M308.96 554.60V556.80M310.62 554.60V556.80M312.10 554.60V558.60M321.85 554.60V556.80M327.56 554.60V556.80M331.61 554.60V556.80M334.75 554.60V556.80M337.31 554.60V556.80M339.48 554.60V556.80M341.36 554.60V556.80M343.02 554.60V556.80M344.50 554.60V558.60" stroke="#000" stroke-width="0.9" fill="none"/><text transform="translate(207.00,555.00) rotate(-90) scale(0.9,1)" font-family='"Liberation Sans", sans-serif' font-size="10.4" text-anchor="middle">0</text><text transform="translate(207.00,520.17) rotate(-90) scale(0.9,1)" font-family='"Liberation Sans", sans-serif' font-size="10.4" text-anchor="middle">5</text><text transform="translate(207.00,485.35) rotate(-90) scale(0.9,1)" font-family='"Liberation Sans", sans-serif' font-size="10.4" text-anchor="middle">10</text><text transform="translate(207.00,450.52) rotate(-90) scale(0.9,1)" font-family='"Liberation Sans", sans-serif' font-size="10.4" text-anchor="middle">15</text><text transform="translate(207.00,415.70) rotate(-90) scale(0.9,1)" font-family='"Liberation Sans", sans-serif' font-size="10.4" text-anchor="middle">20</text><text transform="translate(215.70,570.4) scale(0.8,1)" font-family='"Liberation Sans", sans-serif' font-size="10.6" text-anchor="middle">10<tspan dx="0.4" dy="-5.4" font-size="10">0</tspan></text><text transform="translate(248.10,570.4) scale(0.8,1)" font-family='"Liberation Sans", sans-serif' font-size="10.6" text-anchor="middle">10<tspan dx="0.4" dy="-5.4" font-size="10">1</tspan></text><text transform="translate(280.50,570.4) scale(0.8,1)" font-family='"Liberation Sans", sans-serif' font-size="10.6" text-anchor="middle">10<tspan dx="0.4" dy="-5.4" font-size="10">2</tspan></text><text transform="translate(312.90,570.4) scale(0.8,1)" font-family='"Liberation Sans", sans-serif' font-size="10.6" text-anchor="middle">10<tspan dx="0.4" dy="-5.4" font-size="10">3</tspan></text><text transform="translate(345.30,570.4) scale(0.8,1)" font-family='"Liberation Sans", sans-serif' font-size="10.6" text-anchor="middle">10<tspan dx="0.4" dy="-5.4" font-size="10">4</tspan></text><path d="M215.38 554.60 L215.38 533.08 L216.46 546.92 L217.38 540.77 L218.46 546.92 L219.54 540.77 L220.77 546.92 L222.00 540.77 L223.08 546.92 L224.15 540.77 L225.08 536.15 L226.15 525.38 L227.23 537.69 L228.15 526.15 L229.23 531.54 L230.77 533.08 L232.31 519.23 L233.38 513.08 L234.62 525.38 L235.85 511.54 L236.92 498.46 L237.69 511.54 L238.92 498.46 L240.00 505.38 L240.77 492.31 L241.54 500.77 L242.31 477.69 L243.08 490.00 L243.85 497.69 L245.08 503.85 L246.15 506.92 L247.23 512.31 L248.15 500.77 L249.23 490.77 L250.31 505.38 L251.23 510.00 L251.85 519.23 L253.38 519.23 L254.62 519.23 L255.85 522.31 L256.92 520.77 L258.00 513.08 L258.92 525.38 L260.00 533.08 L260.77 539.23 L262.00 525.38 L263.08 540.00 L264.62 540.00 L266.62 540.77 L267.69 545.38 L268.77 554.60 L270.00 547.69 L271.54 548.46 L272.77 554.60 L274.62 554.60 L275.85 550.00 L276.46 546.92 L277.38 554.60 L290.00 554.60" fill="none" stroke="#111" stroke-width="1.1" stroke-linejoin="miter"/><path d="M245.5 466.7H297M245.5 462.8V470.59999999999997M297 462.8V470.59999999999997" stroke="#1f2f80" stroke-width="1.9" fill="none"/><text x="241" y="457.6" font-family='"Liberation Serif", serif' font-size="13.6">37.4<tspan text-decoration="underline">+</tspan>1.1%</text><text x="215" y="405.4" font-family='"Liberation Serif", serif' font-size="13.7">Sca-1<tspan dy="-6" dx="0.6" font-size="10">+</tspan><tspan dy="6">Lin</tspan><tspan dy="-6" font-size="10">-</tspan><tspan dy="6">Mac-1</tspan><tspan dy="-6" dx="0.6" font-size="10">+</tspan></text><rect x="384.8" y="415.3" width="129.50" height="139.30" fill="none" stroke="#000" stroke-width="1"/><path d="M381.00 554.60H384.8M382.40 547.63H384.8M382.40 540.67H384.8M382.40 533.71H384.8M382.40 526.74H384.8M381.00 519.77H384.8M382.40 512.81H384.8M382.40 505.85H384.8M382.40 498.88H384.8M382.40 491.92H384.8M381.00 484.95H384.8M382.40 477.99H384.8M382.40 471.02H384.8M382.40 464.06H384.8M382.40 457.09H384.8M381.00 450.12H384.8M382.40 443.16H384.8M382.40 436.19H384.8M382.40 429.23H384.8M382.40 422.26H384.8M381.00 415.30H384.8M384.80 554.60V558.60M394.55 554.60V556.80M400.25 554.60V556.80M404.29 554.60V556.80M407.43 554.60V556.80M409.99 554.60V556.80M412.16 554.60V556.80M414.04 554.60V556.80M415.69 554.60V556.80M417.18 554.60V558.60M426.92 554.60V556.80M432.62 554.60V556.80M436.67 554.60V556.80M439.80 554.60V556.80M442.37 554.60V556.80M444.54 554.60V556.80M446.41 554.60V556.80M448.07 554.60V556.80M449.55 554.60V558.60M459.30 554.60V556.80M465.00 554.60V556.80M469.04 554.60V556.80M472.18 554.60V556.80M474.74 554.60V556.80M476.91 554.60V556.80M478.79 554.60V556.80M480.44 554.60V556.80M481.92 554.60V558.60M491.67 554.60V556.80M497.37 554.60V556.80M501.42 554.60V556.80M504.55 554.60V556.80M507.12 554.60V556.80M509.29 554.60V556.80M511.16 554.60V556.80M512.82 554.60V556.80M514.30 554.60V558.60" stroke="#000" stroke-width="0.9" fill="none"/><text transform="translate(376.90,555.00) rotate(-90) scale(0.9,1)" font-family='"Liberation Sans", sans-serif' font-size="10.4" text-anchor="middle">0</text><text transform="translate(376.90,520.17) rotate(-90) scale(0.9,1)" font-family='"Liberation Sans", sans-serif' font-size="10.4" text-anchor="middle">5</text><text transform="translate(376.90,485.35) rotate(-90) scale(0.9,1)" font-family='"Liberation Sans", sans-serif' font-size="10.4" text-anchor="middle">10</text><text transform="translate(376.90,450.52) rotate(-90) scale(0.9,1)" font-family='"Liberation Sans", sans-serif' font-size="10.4" text-anchor="middle">15</text><text transform="translate(376.90,415.70) rotate(-90) scale(0.9,1)" font-family='"Liberation Sans", sans-serif' font-size="10.4" text-anchor="middle">20</text><text transform="translate(385.60,570.4) scale(0.8,1)" font-family='"Liberation Sans", sans-serif' font-size="10.6" text-anchor="middle">10<tspan dx="0.4" dy="-5.4" font-size="10">0</tspan></text><text transform="translate(417.98,570.4) scale(0.8,1)" font-family='"Liberation Sans", sans-serif' font-size="10.6" text-anchor="middle">10<tspan dx="0.4" dy="-5.4" font-size="10">1</tspan></text><text transform="translate(450.35,570.4) scale(0.8,1)" font-family='"Liberation Sans", sans-serif' font-size="10.6" text-anchor="middle">10<tspan dx="0.4" dy="-5.4" font-size="10">2</tspan></text><text transform="translate(482.72,570.4) scale(0.8,1)" font-family='"Liberation Sans", sans-serif' font-size="10.6" text-anchor="middle">10<tspan dx="0.4" dy="-5.4" font-size="10">3</tspan></text><text transform="translate(515.10,570.4) scale(0.8,1)" font-family='"Liberation Sans", sans-serif' font-size="10.6" text-anchor="middle">10<tspan dx="0.4" dy="-5.4" font-size="10">4</tspan></text><path d="M384.80 554.43 L384.87 497.48 L385.63 497.48 L386.40 532.60 L387.92 539.47 L389.45 520.38 L390.52 518.85 L391.74 525.73 L392.96 515.80 L394.03 505.88 L395.10 511.22 L395.56 470.00 L396.63 512.75 L397.85 500.53 L399.37 491.37 L400.60 492.14 L401.66 476.87 L402.73 489.85 L403.65 502.06 L404.72 499.77 L405.48 508.17 L406.24 502.06 L407.01 490.61 L407.77 511.22 L408.53 524.96 L409.30 505.11 L410.82 505.11 L411.89 520.38 L413.11 528.02 L414.34 537.18 L415.86 546.34 L417.69 553.97 L418.92 553.97 L419.98 547.10 L422.58 547.10 L423.80 553.97 L438.00 553.97" fill="none" stroke="#111" stroke-width="1.1" stroke-linejoin="miter"/><path d="M418 467.2H470M418 463.3V471.09999999999997M470 463.3V471.09999999999997" stroke="#1f2f80" stroke-width="1.9" fill="none"/><text x="411.5" y="457.6" font-family='"Liberation Serif", serif' font-size="13.6">0.56<tspan text-decoration="underline">+</tspan>0.03%</text><text x="384.6" y="405.4" font-family='"Liberation Serif", serif' font-size="13.7">Sca-1<tspan dy="-6" dx="0.6" font-size="10">+</tspan><tspan dy="6">Lin</tspan><tspan dy="-6" font-size="10">-</tspan><tspan dy="6">c-kit</tspan><tspan dy="-6" dx="0.6" font-size="10">+</tspan></text><text x="0.2" y="410.8" font-family='"Liberation Sans", sans-serif' font-weight="bold" font-size="23">C</text><text transform="translate(27.3,566) rotate(-90)" font-family='"Liberation Serif", serif' font-size="14">Counts</text><path d="M21.2 521.5V435" stroke="#000" stroke-width="1.4"/><path d="M21.3 426.7 L16.7 435.8 L25.9 435.8Z" fill="#000"/><text x="35.5" y="587.5" font-family='"Liberation Serif", serif' font-size="14">CD144</text><path d="M83.5 583.4H468" stroke="#000" stroke-width="1.3"/><path d="M477 583.4 L467.4 578.9 L467.4 587.9Z" fill="#000"/>
</svg>
</body></html>
